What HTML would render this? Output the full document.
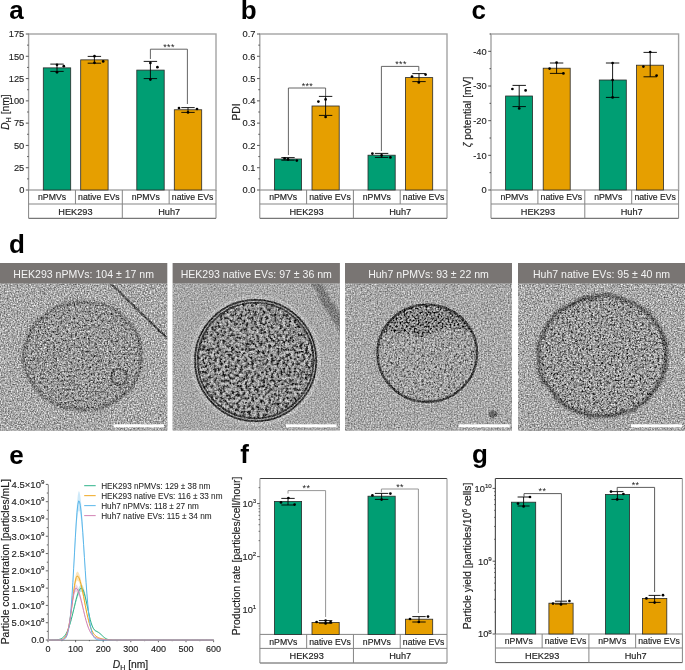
<!DOCTYPE html>
<html><head><meta charset="utf-8"><style>
html,body{margin:0;padding:0;background:#fff;}
svg{display:block;will-change:transform;}
text{font-family:"Liberation Sans", sans-serif;}
</style></head><body>
<svg width="685" height="670" viewBox="0 0 685 670">
<defs>
<filter id="bl" x="-20%" y="-20%" width="140%" height="140%"><feGaussianBlur stdDeviation="0.7"/></filter>
<filter id="bl2" x="-20%" y="-20%" width="140%" height="140%"><feGaussianBlur stdDeviation="1.0"/></filter>
<filter id="texA0" x="-5%" y="-5%" width="110%" height="110%" color-interpolation-filters="sRGB">
<feTurbulence type="fractalNoise" baseFrequency="0.45" numOctaves="2" seed="11" result="t"/>
<feColorMatrix in="t" type="matrix" values="2.5 0 0 0 -0.73  2.5 0 0 0 -0.73  2.5 0 0 0 -0.73  0 0 0 0 1" result="g"/>
<feComponentTransfer in="g" result="h"><feFuncR type="table" tableValues="0.34 0.50 0.595 0.64 0.68"/><feFuncG type="table" tableValues="0.34 0.50 0.595 0.64 0.68"/><feFuncB type="table" tableValues="0.34 0.50 0.595 0.64 0.68"/></feComponentTransfer>
<feComposite in="h" in2="SourceGraphic" operator="in"/>
</filter>
<filter id="texB1" x="-5%" y="-5%" width="110%" height="110%" color-interpolation-filters="sRGB">
<feTurbulence type="fractalNoise" baseFrequency="0.35" numOctaves="2" seed="12" result="t"/>
<feColorMatrix in="t" type="matrix" values="2.5 0 0 0 -0.73  2.5 0 0 0 -0.73  2.5 0 0 0 -0.73  0 0 0 0 1" result="g"/>
<feComponentTransfer in="g" result="h"><feFuncR type="table" tableValues="0.14 0.33 0.53 0.65 0.73"/><feFuncG type="table" tableValues="0.14 0.33 0.53 0.65 0.73"/><feFuncB type="table" tableValues="0.14 0.33 0.53 0.65 0.73"/></feComponentTransfer>
<feComposite in="h" in2="SourceGraphic" operator="in"/>
</filter>
<filter id="texA2" x="-5%" y="-5%" width="110%" height="110%" color-interpolation-filters="sRGB">
<feTurbulence type="fractalNoise" baseFrequency="0.45" numOctaves="2" seed="13" result="t"/>
<feColorMatrix in="t" type="matrix" values="2.5 0 0 0 -0.73  2.5 0 0 0 -0.73  2.5 0 0 0 -0.73  0 0 0 0 1" result="g"/>
<feComponentTransfer in="g" result="h"><feFuncR type="table" tableValues="0.36 0.54 0.63 0.67 0.71"/><feFuncG type="table" tableValues="0.36 0.54 0.63 0.67 0.71"/><feFuncB type="table" tableValues="0.36 0.54 0.63 0.67 0.71"/></feComponentTransfer>
<feComposite in="h" in2="SourceGraphic" operator="in"/>
</filter>
<filter id="texA3" x="-5%" y="-5%" width="110%" height="110%" color-interpolation-filters="sRGB">
<feTurbulence type="fractalNoise" baseFrequency="0.45" numOctaves="2" seed="14" result="t"/>
<feColorMatrix in="t" type="matrix" values="2.5 0 0 0 -0.73  2.5 0 0 0 -0.73  2.5 0 0 0 -0.73  0 0 0 0 1" result="g"/>
<feComponentTransfer in="g" result="h"><feFuncR type="table" tableValues="0.26 0.48 0.60 0.66 0.70"/><feFuncG type="table" tableValues="0.26 0.48 0.60 0.66 0.70"/><feFuncB type="table" tableValues="0.26 0.48 0.60 0.66 0.70"/></feComponentTransfer>
<feComposite in="h" in2="SourceGraphic" operator="in"/>
</filter>
<filter id="texD" x="-5%" y="-5%" width="110%" height="110%" color-interpolation-filters="sRGB">
<feTurbulence type="fractalNoise" baseFrequency="0.5" numOctaves="2" seed="21" result="t"/>
<feColorMatrix in="t" type="matrix" values="2.5 0 0 0 -0.73  2.5 0 0 0 -0.73  2.5 0 0 0 -0.73  0 0 0 0 1" result="g"/>
<feComponentTransfer in="g" result="h"><feFuncR type="table" tableValues="0.08 0.22 0.5 0.64 0.70"/><feFuncG type="table" tableValues="0.08 0.22 0.5 0.64 0.70"/><feFuncB type="table" tableValues="0.08 0.22 0.5 0.64 0.70"/></feComponentTransfer>
<feComposite in="h" in2="SourceGraphic" operator="in"/>
</filter>
<filter id="wob" x="-10%" y="-10%" width="120%" height="120%">
<feTurbulence type="fractalNoise" baseFrequency="0.06" numOctaves="1" seed="5" result="w"/>
<feDisplacementMap in="SourceGraphic" in2="w" scale="5" xChannelSelector="R" yChannelSelector="G" result="d"/>
<feGaussianBlur in="d" stdDeviation="0.9"/>
</filter>
<clipPath id="clip0"><rect x="0" y="283.4" width="167.3" height="147"/></clipPath>
<filter id="noise0" x="0" y="283.4" width="167.3" height="147" filterUnits="userSpaceOnUse" color-interpolation-filters="sRGB">
<feTurbulence type="fractalNoise" baseFrequency="0.7" numOctaves="2" seed="3" result="t"/>
<feColorMatrix in="t" type="matrix" values="1 0 0 0 0  1 0 0 0 0  1 0 0 0 0  0 0 0 0 1" result="g0"/>
<feGaussianBlur in="g0" stdDeviation="0.65" result="g"/>
<feComposite in="SourceGraphic" in2="g" operator="arithmetic" k1="0" k2="1" k3="0.95" k4="-0.465"/>
</filter>
<clipPath id="clip1"><rect x="172.6" y="283.4" width="167.3" height="147"/></clipPath>
<filter id="noise1" x="172.6" y="283.4" width="167.3" height="147" filterUnits="userSpaceOnUse" color-interpolation-filters="sRGB">
<feTurbulence type="fractalNoise" baseFrequency="0.7" numOctaves="2" seed="10" result="t"/>
<feColorMatrix in="t" type="matrix" values="1 0 0 0 0  1 0 0 0 0  1 0 0 0 0  0 0 0 0 1" result="g0"/>
<feGaussianBlur in="g0" stdDeviation="0.65" result="g"/>
<feComposite in="SourceGraphic" in2="g" operator="arithmetic" k1="0" k2="1" k3="0.62" k4="-0.304"/>
</filter>
<clipPath id="clip2"><rect x="345" y="283.4" width="167" height="147"/></clipPath>
<filter id="noise2" x="345" y="283.4" width="167" height="147" filterUnits="userSpaceOnUse" color-interpolation-filters="sRGB">
<feTurbulence type="fractalNoise" baseFrequency="0.7" numOctaves="2" seed="17" result="t"/>
<feColorMatrix in="t" type="matrix" values="1 0 0 0 0  1 0 0 0 0  1 0 0 0 0  0 0 0 0 1" result="g0"/>
<feGaussianBlur in="g0" stdDeviation="0.65" result="g"/>
<feComposite in="SourceGraphic" in2="g" operator="arithmetic" k1="0" k2="1" k3="0.78" k4="-0.382"/>
</filter>
<clipPath id="clip3"><rect x="518" y="283.4" width="167" height="147"/></clipPath>
<filter id="noise3" x="518" y="283.4" width="167" height="147" filterUnits="userSpaceOnUse" color-interpolation-filters="sRGB">
<feTurbulence type="fractalNoise" baseFrequency="0.7" numOctaves="2" seed="24" result="t"/>
<feColorMatrix in="t" type="matrix" values="1 0 0 0 0  1 0 0 0 0  1 0 0 0 0  0 0 0 0 1" result="g0"/>
<feGaussianBlur in="g0" stdDeviation="0.65" result="g"/>
<feComposite in="SourceGraphic" in2="g" operator="arithmetic" k1="0" k2="1" k3="0.95" k4="-0.465"/>
</filter>
</defs>
<rect width="685" height="670" fill="#fff"/>
<text x="9.3" y="19.2" font-size="26" font-weight="bold" fill="#000">a</text>
<rect x="28.6" y="34" width="187.4" height="156" fill="none" stroke="#a3a3a3" stroke-width="1.4" />
<line x1="25.8" y1="190" x2="28.6" y2="190" stroke="#444" stroke-width="0.9" />
<text x="24.3" y="193.3" font-size="9.3" text-anchor="end" fill="#1e1e1e" stroke="#1e1e1e" stroke-width="0.14" >0</text>
<line x1="25.8" y1="167.71" x2="28.6" y2="167.71" stroke="#444" stroke-width="0.9" />
<text x="24.3" y="171.01" font-size="9.3" text-anchor="end" fill="#1e1e1e" stroke="#1e1e1e" stroke-width="0.14" >25</text>
<line x1="25.8" y1="145.43" x2="28.6" y2="145.43" stroke="#444" stroke-width="0.9" />
<text x="24.3" y="148.73" font-size="9.3" text-anchor="end" fill="#1e1e1e" stroke="#1e1e1e" stroke-width="0.14" >50</text>
<line x1="25.8" y1="123.14" x2="28.6" y2="123.14" stroke="#444" stroke-width="0.9" />
<text x="24.3" y="126.44" font-size="9.3" text-anchor="end" fill="#1e1e1e" stroke="#1e1e1e" stroke-width="0.14" >75</text>
<line x1="25.8" y1="100.86" x2="28.6" y2="100.86" stroke="#444" stroke-width="0.9" />
<text x="24.3" y="104.16" font-size="9.3" text-anchor="end" fill="#1e1e1e" stroke="#1e1e1e" stroke-width="0.14" >100</text>
<line x1="25.8" y1="78.57" x2="28.6" y2="78.57" stroke="#444" stroke-width="0.9" />
<text x="24.3" y="81.87" font-size="9.3" text-anchor="end" fill="#1e1e1e" stroke="#1e1e1e" stroke-width="0.14" >125</text>
<line x1="25.8" y1="56.29" x2="28.6" y2="56.29" stroke="#444" stroke-width="0.9" />
<text x="24.3" y="59.59" font-size="9.3" text-anchor="end" fill="#1e1e1e" stroke="#1e1e1e" stroke-width="0.14" >150</text>
<line x1="25.8" y1="34" x2="28.6" y2="34" stroke="#444" stroke-width="0.9" />
<text x="24.3" y="37.3" font-size="9.3" text-anchor="end" fill="#1e1e1e" stroke="#1e1e1e" stroke-width="0.14" >175</text>
<line x1="27.1" y1="178.86" x2="28.6" y2="178.86" stroke="#444" stroke-width="0.9" />
<line x1="27.1" y1="156.57" x2="28.6" y2="156.57" stroke="#444" stroke-width="0.9" />
<line x1="27.1" y1="134.29" x2="28.6" y2="134.29" stroke="#444" stroke-width="0.9" />
<line x1="27.1" y1="112" x2="28.6" y2="112" stroke="#444" stroke-width="0.9" />
<line x1="27.1" y1="89.71" x2="28.6" y2="89.71" stroke="#444" stroke-width="0.9" />
<line x1="27.1" y1="67.43" x2="28.6" y2="67.43" stroke="#444" stroke-width="0.9" />
<line x1="27.1" y1="45.14" x2="28.6" y2="45.14" stroke="#444" stroke-width="0.9" />
<rect x="43.3" y="67.87" width="27.4" height="122.13" fill="#009E73" stroke="#2a2a2a" stroke-width="0.8" />
<rect x="80.7" y="59.85" width="27.4" height="130.15" fill="#E69F00" stroke="#2a2a2a" stroke-width="0.8" />
<rect x="136.8" y="70.1" width="27.4" height="119.9" fill="#009E73" stroke="#2a2a2a" stroke-width="0.8" />
<rect x="174.3" y="109.77" width="27.4" height="80.23" fill="#E69F00" stroke="#2a2a2a" stroke-width="0.8" />
<line x1="57" y1="64.1" x2="57" y2="71.4" stroke="#000" stroke-width="0.9" />
<line x1="50.3" y1="64.1" x2="63.7" y2="64.1" stroke="#000" stroke-width="0.9" />
<line x1="50.3" y1="71.4" x2="63.7" y2="71.4" stroke="#000" stroke-width="0.9" />
<circle cx="57" cy="64.8" r="1.35" fill="#000"/>
<circle cx="57" cy="72.3" r="1.35" fill="#000"/>
<circle cx="63.8" cy="66.2" r="1.35" fill="#000"/>
<line x1="94.4" y1="56.4" x2="94.4" y2="63.2" stroke="#000" stroke-width="0.9" />
<line x1="87.7" y1="56.4" x2="101.1" y2="56.4" stroke="#000" stroke-width="0.9" />
<line x1="87.7" y1="63.2" x2="101.1" y2="63.2" stroke="#000" stroke-width="0.9" />
<circle cx="94.5" cy="56.2" r="1.35" fill="#000"/>
<circle cx="94.5" cy="62.8" r="1.35" fill="#000"/>
<circle cx="103.2" cy="61.4" r="1.35" fill="#000"/>
<line x1="150.4" y1="61.4" x2="150.4" y2="78.6" stroke="#000" stroke-width="0.9" />
<line x1="143.7" y1="61.4" x2="157.1" y2="61.4" stroke="#000" stroke-width="0.9" />
<line x1="143.7" y1="78.6" x2="157.1" y2="78.6" stroke="#000" stroke-width="0.9" />
<circle cx="150.4" cy="63" r="1.35" fill="#000"/>
<circle cx="150.4" cy="79.6" r="1.35" fill="#000"/>
<circle cx="157.4" cy="67.2" r="1.35" fill="#000"/>
<line x1="188" y1="107.6" x2="188" y2="112.4" stroke="#000" stroke-width="0.9" />
<line x1="181.3" y1="107.6" x2="194.7" y2="107.6" stroke="#000" stroke-width="0.9" />
<line x1="181.3" y1="112.4" x2="194.7" y2="112.4" stroke="#000" stroke-width="0.9" />
<circle cx="179" cy="108" r="1.35" fill="#000"/>
<circle cx="188" cy="112.4" r="1.35" fill="#000"/>
<circle cx="197" cy="109" r="1.35" fill="#000"/>
<polyline points="150.4,59 150.4,49.2 187.4,49.2 187.4,104" fill="none" stroke="#555" stroke-width="0.9"/>
<text x="169" y="49.8" font-size="9.0" text-anchor="middle" fill="#222" stroke="#222" stroke-width="0" letter-spacing="0.3">***</text>
<line x1="28.6" y1="204" x2="216" y2="204" stroke="#858585" stroke-width="1" />
<line x1="28.6" y1="218.3" x2="216" y2="218.3" stroke="#555" stroke-width="1" />
<line x1="28.6" y1="190" x2="28.6" y2="218.3" stroke="#858585" stroke-width="1" />
<line x1="216" y1="190" x2="216" y2="218.3" stroke="#858585" stroke-width="1" />
<line x1="122.3" y1="190" x2="122.3" y2="218.3" stroke="#858585" stroke-width="1" />
<line x1="75.45" y1="190" x2="75.45" y2="204" stroke="#858585" stroke-width="1" />
<line x1="169.15" y1="190" x2="169.15" y2="204" stroke="#858585" stroke-width="1" />
<text x="52.03" y="200.1" font-size="8.7" text-anchor="middle" fill="#1e1e1e" stroke="#1e1e1e" stroke-width="0.17" >nPMVs</text>
<text x="98.88" y="200.1" font-size="8.7" text-anchor="middle" fill="#1e1e1e" stroke="#1e1e1e" stroke-width="0.17" >native EVs</text>
<text x="145.73" y="200.1" font-size="8.7" text-anchor="middle" fill="#1e1e1e" stroke="#1e1e1e" stroke-width="0.17" >nPMVs</text>
<text x="192.58" y="200.1" font-size="8.7" text-anchor="middle" fill="#1e1e1e" stroke="#1e1e1e" stroke-width="0.17" >native EVs</text>
<text x="75.45" y="214.6" font-size="9.2" text-anchor="middle" fill="#1e1e1e" stroke="#1e1e1e" stroke-width="0.17" >HEK293</text>
<text x="169.15" y="214.6" font-size="9.2" text-anchor="middle" fill="#1e1e1e" stroke="#1e1e1e" stroke-width="0.17" >Huh7</text>
<text transform="translate(8.7,112) rotate(-90)" font-size="10.3" text-anchor="middle" fill="#1e1e1e" stroke="#1e1e1e" stroke-width="0.17"><tspan font-style="italic">D</tspan><tspan font-size="7" dy="2.2">H</tspan><tspan dy="-2.2"> [nm]</tspan></text>
<text x="240.8" y="19.4" font-size="26" font-weight="bold" fill="#000">b</text>
<rect x="259.8" y="34" width="187.2" height="156" fill="none" stroke="#a3a3a3" stroke-width="1.4" />
<line x1="257" y1="190" x2="259.8" y2="190" stroke="#444" stroke-width="0.9" />
<text x="255.5" y="193.3" font-size="9.3" text-anchor="end" fill="#1e1e1e" stroke="#1e1e1e" stroke-width="0.14" >0.0</text>
<line x1="258.3" y1="178.86" x2="259.8" y2="178.86" stroke="#444" stroke-width="0.9" />
<line x1="257" y1="167.71" x2="259.8" y2="167.71" stroke="#444" stroke-width="0.9" />
<text x="255.5" y="171.01" font-size="9.3" text-anchor="end" fill="#1e1e1e" stroke="#1e1e1e" stroke-width="0.14" >0.1</text>
<line x1="258.3" y1="156.57" x2="259.8" y2="156.57" stroke="#444" stroke-width="0.9" />
<line x1="257" y1="145.43" x2="259.8" y2="145.43" stroke="#444" stroke-width="0.9" />
<text x="255.5" y="148.73" font-size="9.3" text-anchor="end" fill="#1e1e1e" stroke="#1e1e1e" stroke-width="0.14" >0.2</text>
<line x1="258.3" y1="134.29" x2="259.8" y2="134.29" stroke="#444" stroke-width="0.9" />
<line x1="257" y1="123.14" x2="259.8" y2="123.14" stroke="#444" stroke-width="0.9" />
<text x="255.5" y="126.44" font-size="9.3" text-anchor="end" fill="#1e1e1e" stroke="#1e1e1e" stroke-width="0.14" >0.3</text>
<line x1="258.3" y1="112" x2="259.8" y2="112" stroke="#444" stroke-width="0.9" />
<line x1="257" y1="100.86" x2="259.8" y2="100.86" stroke="#444" stroke-width="0.9" />
<text x="255.5" y="104.16" font-size="9.3" text-anchor="end" fill="#1e1e1e" stroke="#1e1e1e" stroke-width="0.14" >0.4</text>
<line x1="258.3" y1="89.71" x2="259.8" y2="89.71" stroke="#444" stroke-width="0.9" />
<line x1="257" y1="78.57" x2="259.8" y2="78.57" stroke="#444" stroke-width="0.9" />
<text x="255.5" y="81.87" font-size="9.3" text-anchor="end" fill="#1e1e1e" stroke="#1e1e1e" stroke-width="0.14" >0.5</text>
<line x1="258.3" y1="67.43" x2="259.8" y2="67.43" stroke="#444" stroke-width="0.9" />
<line x1="257" y1="56.29" x2="259.8" y2="56.29" stroke="#444" stroke-width="0.9" />
<text x="255.5" y="59.59" font-size="9.3" text-anchor="end" fill="#1e1e1e" stroke="#1e1e1e" stroke-width="0.14" >0.6</text>
<line x1="258.3" y1="45.14" x2="259.8" y2="45.14" stroke="#444" stroke-width="0.9" />
<line x1="257" y1="34" x2="259.8" y2="34" stroke="#444" stroke-width="0.9" />
<text x="255.5" y="37.3" font-size="9.3" text-anchor="end" fill="#1e1e1e" stroke="#1e1e1e" stroke-width="0.14" >0.7</text>
<rect x="274.4" y="159" width="27.2" height="31" fill="#009E73" stroke="#2a2a2a" stroke-width="0.8" />
<rect x="312" y="106" width="27.2" height="84" fill="#E69F00" stroke="#2a2a2a" stroke-width="0.8" />
<rect x="368" y="155.2" width="27.2" height="34.8" fill="#009E73" stroke="#2a2a2a" stroke-width="0.8" />
<rect x="405.5" y="77.6" width="27.2" height="112.4" fill="#E69F00" stroke="#2a2a2a" stroke-width="0.8" />
<line x1="288" y1="157.6" x2="288" y2="160.2" stroke="#000" stroke-width="0.9" />
<line x1="281.3" y1="157.6" x2="294.7" y2="157.6" stroke="#000" stroke-width="0.9" />
<line x1="281.3" y1="160.2" x2="294.7" y2="160.2" stroke="#000" stroke-width="0.9" />
<circle cx="284.6" cy="158.4" r="1.35" fill="#000"/>
<circle cx="288" cy="159.4" r="1.35" fill="#000"/>
<circle cx="296.8" cy="160.6" r="1.35" fill="#000"/>
<line x1="325.6" y1="96.4" x2="325.6" y2="115.4" stroke="#000" stroke-width="0.9" />
<line x1="318.9" y1="96.4" x2="332.3" y2="96.4" stroke="#000" stroke-width="0.9" />
<line x1="318.9" y1="115.4" x2="332.3" y2="115.4" stroke="#000" stroke-width="0.9" />
<circle cx="318.4" cy="101.6" r="1.35" fill="#000"/>
<circle cx="325.6" cy="99.4" r="1.35" fill="#000"/>
<circle cx="325.6" cy="117" r="1.35" fill="#000"/>
<line x1="381.6" y1="153.4" x2="381.6" y2="157.4" stroke="#000" stroke-width="0.9" />
<line x1="374.9" y1="153.4" x2="388.3" y2="153.4" stroke="#000" stroke-width="0.9" />
<line x1="374.9" y1="157.4" x2="388.3" y2="157.4" stroke="#000" stroke-width="0.9" />
<circle cx="372.4" cy="153.6" r="1.35" fill="#000"/>
<circle cx="381.6" cy="155.4" r="1.35" fill="#000"/>
<circle cx="390.4" cy="157.4" r="1.35" fill="#000"/>
<line x1="419" y1="73.6" x2="419" y2="81.6" stroke="#000" stroke-width="0.9" />
<line x1="412.3" y1="73.6" x2="425.7" y2="73.6" stroke="#000" stroke-width="0.9" />
<line x1="412.3" y1="81.6" x2="425.7" y2="81.6" stroke="#000" stroke-width="0.9" />
<circle cx="412" cy="76.6" r="1.35" fill="#000"/>
<circle cx="425.6" cy="74.6" r="1.35" fill="#000"/>
<circle cx="418.8" cy="82.4" r="1.35" fill="#000"/>
<polyline points="288.4,155 288.4,88 325.6,88 325.6,96" fill="none" stroke="#555" stroke-width="0.9"/>
<text x="307.4" y="88.6" font-size="9.0" text-anchor="middle" fill="#222" stroke="#222" stroke-width="0" letter-spacing="0.3">***</text>
<polyline points="381.4,151 381.4,66.4 418.8,66.4 418.8,71" fill="none" stroke="#555" stroke-width="0.9"/>
<text x="401" y="67" font-size="9.0" text-anchor="middle" fill="#222" stroke="#222" stroke-width="0" letter-spacing="0.3">***</text>
<line x1="259.8" y1="204" x2="447" y2="204" stroke="#858585" stroke-width="1" />
<line x1="259.8" y1="218.3" x2="447" y2="218.3" stroke="#555" stroke-width="1" />
<line x1="259.8" y1="190" x2="259.8" y2="218.3" stroke="#858585" stroke-width="1" />
<line x1="447" y1="190" x2="447" y2="218.3" stroke="#858585" stroke-width="1" />
<line x1="353.4" y1="190" x2="353.4" y2="218.3" stroke="#858585" stroke-width="1" />
<line x1="306.6" y1="190" x2="306.6" y2="204" stroke="#858585" stroke-width="1" />
<line x1="400.2" y1="190" x2="400.2" y2="204" stroke="#858585" stroke-width="1" />
<text x="283.2" y="200.1" font-size="8.7" text-anchor="middle" fill="#1e1e1e" stroke="#1e1e1e" stroke-width="0.17" >nPMVs</text>
<text x="330" y="200.1" font-size="8.7" text-anchor="middle" fill="#1e1e1e" stroke="#1e1e1e" stroke-width="0.17" >native EVs</text>
<text x="376.8" y="200.1" font-size="8.7" text-anchor="middle" fill="#1e1e1e" stroke="#1e1e1e" stroke-width="0.17" >nPMVs</text>
<text x="423.6" y="200.1" font-size="8.7" text-anchor="middle" fill="#1e1e1e" stroke="#1e1e1e" stroke-width="0.17" >native EVs</text>
<text x="306.6" y="214.6" font-size="9.2" text-anchor="middle" fill="#1e1e1e" stroke="#1e1e1e" stroke-width="0.17" >HEK293</text>
<text x="400.2" y="214.6" font-size="9.2" text-anchor="middle" fill="#1e1e1e" stroke="#1e1e1e" stroke-width="0.17" >Huh7</text>
<text x="0" y="0" font-size="10.3" text-anchor="middle" fill="#1e1e1e" stroke="#1e1e1e" stroke-width="0.17" transform="translate(239.6,112) rotate(-90)">PDI</text>
<text x="471.5" y="19.2" font-size="26" font-weight="bold" fill="#000">c</text>
<rect x="491" y="34" width="187.6" height="156" fill="none" stroke="#a3a3a3" stroke-width="1.4" />
<line x1="488.2" y1="190" x2="491" y2="190" stroke="#444" stroke-width="0.9" />
<text x="486.7" y="193.3" font-size="9.3" text-anchor="end" fill="#1e1e1e" stroke="#1e1e1e" stroke-width="0.14" >0</text>
<line x1="488.2" y1="155.33" x2="491" y2="155.33" stroke="#444" stroke-width="0.9" />
<text x="486.7" y="158.63" font-size="9.3" text-anchor="end" fill="#1e1e1e" stroke="#1e1e1e" stroke-width="0.14" >-10</text>
<line x1="488.2" y1="120.67" x2="491" y2="120.67" stroke="#444" stroke-width="0.9" />
<text x="486.7" y="123.97" font-size="9.3" text-anchor="end" fill="#1e1e1e" stroke="#1e1e1e" stroke-width="0.14" >-20</text>
<line x1="488.2" y1="86" x2="491" y2="86" stroke="#444" stroke-width="0.9" />
<text x="486.7" y="89.3" font-size="9.3" text-anchor="end" fill="#1e1e1e" stroke="#1e1e1e" stroke-width="0.14" >-30</text>
<line x1="488.2" y1="51.33" x2="491" y2="51.33" stroke="#444" stroke-width="0.9" />
<text x="486.7" y="54.63" font-size="9.3" text-anchor="end" fill="#1e1e1e" stroke="#1e1e1e" stroke-width="0.14" >-40</text>
<line x1="489.5" y1="172.67" x2="491" y2="172.67" stroke="#444" stroke-width="0.9" />
<line x1="489.5" y1="138" x2="491" y2="138" stroke="#444" stroke-width="0.9" />
<line x1="489.5" y1="103.33" x2="491" y2="103.33" stroke="#444" stroke-width="0.9" />
<line x1="489.5" y1="68.67" x2="491" y2="68.67" stroke="#444" stroke-width="0.9" />
<line x1="489.5" y1="34" x2="491" y2="34" stroke="#444" stroke-width="0.9" />
<rect x="505.6" y="96" width="27" height="94" fill="#009E73" stroke="#2a2a2a" stroke-width="0.8" />
<rect x="543.2" y="68.2" width="27" height="121.8" fill="#E69F00" stroke="#2a2a2a" stroke-width="0.8" />
<rect x="599.3" y="80" width="27" height="110" fill="#009E73" stroke="#2a2a2a" stroke-width="0.8" />
<rect x="636.6" y="65.2" width="27" height="124.8" fill="#E69F00" stroke="#2a2a2a" stroke-width="0.8" />
<line x1="519.2" y1="85.4" x2="519.2" y2="106.6" stroke="#000" stroke-width="0.9" />
<line x1="512.5" y1="85.4" x2="525.9" y2="85.4" stroke="#000" stroke-width="0.9" />
<line x1="512.5" y1="106.6" x2="525.9" y2="106.6" stroke="#000" stroke-width="0.9" />
<circle cx="512.4" cy="89" r="1.35" fill="#000"/>
<circle cx="525.6" cy="90.4" r="1.35" fill="#000"/>
<circle cx="519.2" cy="108.4" r="1.35" fill="#000"/>
<line x1="556.6" y1="63" x2="556.6" y2="73.4" stroke="#000" stroke-width="0.9" />
<line x1="549.9" y1="63" x2="563.3" y2="63" stroke="#000" stroke-width="0.9" />
<line x1="549.9" y1="73.4" x2="563.3" y2="73.4" stroke="#000" stroke-width="0.9" />
<circle cx="549.6" cy="68.6" r="1.35" fill="#000"/>
<circle cx="556.6" cy="62.6" r="1.35" fill="#000"/>
<circle cx="563.4" cy="73.4" r="1.35" fill="#000"/>
<line x1="612.6" y1="63" x2="612.6" y2="97.4" stroke="#000" stroke-width="0.9" />
<line x1="605.9" y1="63" x2="619.3" y2="63" stroke="#000" stroke-width="0.9" />
<line x1="605.9" y1="97.4" x2="619.3" y2="97.4" stroke="#000" stroke-width="0.9" />
<circle cx="612.6" cy="63" r="1.35" fill="#000"/>
<circle cx="612.6" cy="80" r="1.35" fill="#000"/>
<circle cx="612.6" cy="97.4" r="1.35" fill="#000"/>
<line x1="650.2" y1="52.4" x2="650.2" y2="76.8" stroke="#000" stroke-width="0.9" />
<line x1="643.5" y1="52.4" x2="656.9" y2="52.4" stroke="#000" stroke-width="0.9" />
<line x1="643.5" y1="76.8" x2="656.9" y2="76.8" stroke="#000" stroke-width="0.9" />
<circle cx="650.2" cy="52" r="1.35" fill="#000"/>
<circle cx="643.4" cy="66.6" r="1.35" fill="#000"/>
<circle cx="656.6" cy="75.6" r="1.35" fill="#000"/>
<line x1="491" y1="204" x2="678.6" y2="204" stroke="#858585" stroke-width="1" />
<line x1="491" y1="218.3" x2="678.6" y2="218.3" stroke="#555" stroke-width="1" />
<line x1="491" y1="190" x2="491" y2="218.3" stroke="#858585" stroke-width="1" />
<line x1="678.6" y1="190" x2="678.6" y2="218.3" stroke="#858585" stroke-width="1" />
<line x1="584.8" y1="190" x2="584.8" y2="218.3" stroke="#858585" stroke-width="1" />
<line x1="537.9" y1="190" x2="537.9" y2="204" stroke="#858585" stroke-width="1" />
<line x1="631.7" y1="190" x2="631.7" y2="204" stroke="#858585" stroke-width="1" />
<text x="514.45" y="200.1" font-size="8.7" text-anchor="middle" fill="#1e1e1e" stroke="#1e1e1e" stroke-width="0.17" >nPMVs</text>
<text x="561.35" y="200.1" font-size="8.7" text-anchor="middle" fill="#1e1e1e" stroke="#1e1e1e" stroke-width="0.17" >native EVs</text>
<text x="608.25" y="200.1" font-size="8.7" text-anchor="middle" fill="#1e1e1e" stroke="#1e1e1e" stroke-width="0.17" >nPMVs</text>
<text x="655.15" y="200.1" font-size="8.7" text-anchor="middle" fill="#1e1e1e" stroke="#1e1e1e" stroke-width="0.17" >native EVs</text>
<text x="537.9" y="214.6" font-size="9.2" text-anchor="middle" fill="#1e1e1e" stroke="#1e1e1e" stroke-width="0.17" >HEK293</text>
<text x="631.7" y="214.6" font-size="9.2" text-anchor="middle" fill="#1e1e1e" stroke="#1e1e1e" stroke-width="0.17" >Huh7</text>
<text transform="translate(470.6,112) rotate(-90)" font-size="10.3" text-anchor="middle" fill="#1e1e1e" stroke="#1e1e1e" stroke-width="0.17"><tspan font-style="italic">ζ</tspan> potential [mV]</text>
<text x="8.9" y="252.5" font-size="26" font-weight="bold" fill="#000">d</text>
<g clip-path="url(#clip0)"><g filter="url(#noise0)">
<rect x="0" y="283.4" width="167.3" height="147" fill="#a5a5a5" stroke="none" stroke-width="0" />

<ellipse cx="83" cy="356" rx="60" ry="55" fill="#fff" filter="url(#texA0)"/>
<ellipse cx="83" cy="356" rx="59" ry="54" fill="none" stroke="#4a4a4a" stroke-width="3.2" stroke-opacity="0.5" filter="url(#wob)"/>
<circle cx="119" cy="377" r="8" fill="none" stroke="#444" stroke-width="2.2" stroke-opacity="0.7" filter="url(#bl)"/>
<line x1="108" y1="281" x2="168" y2="339" stroke="#2a2a2a" stroke-width="2.2" stroke-opacity="0.7" filter="url(#bl)"/>

</g></g>
<rect x="0" y="263" width="167.3" height="20.4" fill="#797573" stroke="none" stroke-width="0" />
<text x="83.65" y="277.5" font-size="10.55" text-anchor="middle" fill="#f4f4f4" stroke="#f4f4f4" stroke-width="0" >HEK293 nPMVs: 104 ± 17 nm</text>
<g clip-path="url(#clip1)"><g filter="url(#noise1)">
<rect x="172.6" y="283.4" width="167.3" height="147" fill="#a5a5a5" stroke="none" stroke-width="0" />

<circle cx="255.6" cy="360.5" r="63.5" fill="none" stroke="#d8d8d8" stroke-width="3.5" stroke-opacity="0.35" filter="url(#bl)"/>
<circle cx="255.6" cy="360.5" r="59" fill="#fff" filter="url(#texB1)"/>
<circle cx="255.6" cy="360.5" r="60.6" fill="none" stroke="#262626" stroke-width="1.7" stroke-opacity="0.9" filter="url(#bl)"/>
<circle cx="255.6" cy="360.5" r="57.8" fill="none" stroke="#262626" stroke-width="1.6" stroke-opacity="0.8" filter="url(#bl)"/>
<path d="M314,281 Q328,305 344,330" fill="none" stroke="#2a2a2a" stroke-width="9" stroke-opacity="0.35" filter="url(#wob)"/>

</g></g>
<rect x="172.6" y="263" width="167.3" height="20.4" fill="#797573" stroke="none" stroke-width="0" />
<text x="256.25" y="277.5" font-size="10.55" text-anchor="middle" fill="#f4f4f4" stroke="#f4f4f4" stroke-width="0" >HEK293 native EVs: 97 ± 36 nm</text>
<g clip-path="url(#clip2)"><g filter="url(#noise2)">
<rect x="345" y="283.4" width="167" height="147" fill="#a5a5a5" stroke="none" stroke-width="0" />

<ellipse cx="427" cy="353" rx="49.5" ry="49" fill="#fff" filter="url(#texA2)"/>
<path d="M381,334 Q392,306 427,305 Q462,306 472,332 Q445,322 425,338 Q400,330 381,334 Z" fill="#fff" filter="url(#texD)"/>
<ellipse cx="427.2" cy="353.2" rx="49.7" ry="48.6" fill="none" stroke="#262626" stroke-width="2.4" stroke-opacity="0.8" filter="url(#bl)"/>
<circle cx="493" cy="414" r="4" fill="#333" fill-opacity="0.6" filter="url(#bl)"/>

</g></g>
<rect x="345" y="263" width="167" height="20.4" fill="#797573" stroke="none" stroke-width="0" />
<text x="428.5" y="277.5" font-size="10.55" text-anchor="middle" fill="#f4f4f4" stroke="#f4f4f4" stroke-width="0" >Huh7 nPMVs: 93 ± 22 nm</text>
<g clip-path="url(#clip3)"><g filter="url(#noise3)">
<rect x="518" y="283.4" width="167" height="147" fill="#a5a5a5" stroke="none" stroke-width="0" />

<ellipse cx="602.5" cy="356" rx="64" ry="60" fill="#fff" filter="url(#texA3)"/>
<ellipse cx="602.5" cy="356" rx="64" ry="60" fill="none" stroke="#222" stroke-width="3.4" stroke-opacity="0.62" filter="url(#wob)"/>

</g></g>
<rect x="518" y="263" width="167" height="20.4" fill="#797573" stroke="none" stroke-width="0" />
<text x="601.5" y="277.5" font-size="10.55" text-anchor="middle" fill="#f4f4f4" stroke="#f4f4f4" stroke-width="0" >Huh7 native EVs: 95 ± 40 nm</text>
<rect x="113.6" y="424.3" width="50.4" height="3" fill="#ffffff" stroke="none" stroke-width="0" />
<rect x="286" y="424.3" width="50.6" height="3" fill="#ffffff" stroke="none" stroke-width="0" />
<rect x="458.6" y="424.3" width="51.2" height="3" fill="#ffffff" stroke="none" stroke-width="0" />
<rect x="631" y="424.3" width="51" height="3" fill="#ffffff" stroke="none" stroke-width="0" />
<text x="9.2" y="463.5" font-size="26" font-weight="bold" fill="#000">e</text>
<line x1="48.3" y1="484.4" x2="48.3" y2="640" stroke="#808080" stroke-width="1" />
<line x1="48" y1="640.3" x2="213.6" y2="640.3" stroke="#808080" stroke-width="1" />
<line x1="45.8" y1="640" x2="48" y2="640" stroke="#555" stroke-width="0.9" />
<line x1="46.8" y1="631.36" x2="48" y2="631.36" stroke="#555" stroke-width="0.9" />
<text x="44.4" y="643.4" font-size="9.5" text-anchor="end" fill="#1e1e1e" stroke="#1e1e1e" stroke-width="0.14" >0.0</text>
<line x1="45.8" y1="622.71" x2="48" y2="622.71" stroke="#555" stroke-width="0.9" />
<line x1="46.8" y1="614.07" x2="48" y2="614.07" stroke="#555" stroke-width="0.9" />
<text x="44.4" y="626.11" font-size="9.5" text-anchor="end" fill="#1e1e1e" stroke="#1e1e1e" stroke-width="0.14">5.0×10<tspan font-size="6.2" dy="-3.8">8</tspan></text>
<line x1="45.8" y1="605.42" x2="48" y2="605.42" stroke="#555" stroke-width="0.9" />
<line x1="46.8" y1="596.78" x2="48" y2="596.78" stroke="#555" stroke-width="0.9" />
<text x="44.4" y="608.82" font-size="9.5" text-anchor="end" fill="#1e1e1e" stroke="#1e1e1e" stroke-width="0.14">1.0×10<tspan font-size="6.2" dy="-3.8">9</tspan></text>
<line x1="45.8" y1="588.13" x2="48" y2="588.13" stroke="#555" stroke-width="0.9" />
<line x1="46.8" y1="579.49" x2="48" y2="579.49" stroke="#555" stroke-width="0.9" />
<text x="44.4" y="591.53" font-size="9.5" text-anchor="end" fill="#1e1e1e" stroke="#1e1e1e" stroke-width="0.14">1.5×10<tspan font-size="6.2" dy="-3.8">9</tspan></text>
<line x1="45.8" y1="570.84" x2="48" y2="570.84" stroke="#555" stroke-width="0.9" />
<line x1="46.8" y1="562.2" x2="48" y2="562.2" stroke="#555" stroke-width="0.9" />
<text x="44.4" y="574.24" font-size="9.5" text-anchor="end" fill="#1e1e1e" stroke="#1e1e1e" stroke-width="0.14">2.0×10<tspan font-size="6.2" dy="-3.8">9</tspan></text>
<line x1="45.8" y1="553.56" x2="48" y2="553.56" stroke="#555" stroke-width="0.9" />
<line x1="46.8" y1="544.91" x2="48" y2="544.91" stroke="#555" stroke-width="0.9" />
<text x="44.4" y="556.96" font-size="9.5" text-anchor="end" fill="#1e1e1e" stroke="#1e1e1e" stroke-width="0.14">2.5×10<tspan font-size="6.2" dy="-3.8">9</tspan></text>
<line x1="45.8" y1="536.27" x2="48" y2="536.27" stroke="#555" stroke-width="0.9" />
<line x1="46.8" y1="527.62" x2="48" y2="527.62" stroke="#555" stroke-width="0.9" />
<text x="44.4" y="539.67" font-size="9.5" text-anchor="end" fill="#1e1e1e" stroke="#1e1e1e" stroke-width="0.14">3.0×10<tspan font-size="6.2" dy="-3.8">9</tspan></text>
<line x1="45.8" y1="518.98" x2="48" y2="518.98" stroke="#555" stroke-width="0.9" />
<line x1="46.8" y1="510.33" x2="48" y2="510.33" stroke="#555" stroke-width="0.9" />
<text x="44.4" y="522.38" font-size="9.5" text-anchor="end" fill="#1e1e1e" stroke="#1e1e1e" stroke-width="0.14">3.5×10<tspan font-size="6.2" dy="-3.8">9</tspan></text>
<line x1="45.8" y1="501.69" x2="48" y2="501.69" stroke="#555" stroke-width="0.9" />
<line x1="46.8" y1="493.04" x2="48" y2="493.04" stroke="#555" stroke-width="0.9" />
<text x="44.4" y="505.09" font-size="9.5" text-anchor="end" fill="#1e1e1e" stroke="#1e1e1e" stroke-width="0.14">4.0×10<tspan font-size="6.2" dy="-3.8">9</tspan></text>
<line x1="45.8" y1="484.4" x2="48" y2="484.4" stroke="#555" stroke-width="0.9" />
<text x="44.4" y="487.8" font-size="9.5" text-anchor="end" fill="#1e1e1e" stroke="#1e1e1e" stroke-width="0.14">4.5×10<tspan font-size="6.2" dy="-3.8">9</tspan></text>
<line x1="48" y1="640" x2="48" y2="642.2" stroke="#555" stroke-width="0.9" />
<text x="48" y="651.5" font-size="9.0" text-anchor="middle" fill="#1e1e1e" stroke="#1e1e1e" stroke-width="0.14" >0</text>
<line x1="61.8" y1="640" x2="61.8" y2="641.2" stroke="#555" stroke-width="0.9" />
<line x1="75.6" y1="640" x2="75.6" y2="642.2" stroke="#555" stroke-width="0.9" />
<text x="75.6" y="651.5" font-size="9.0" text-anchor="middle" fill="#1e1e1e" stroke="#1e1e1e" stroke-width="0.14" >100</text>
<line x1="89.4" y1="640" x2="89.4" y2="641.2" stroke="#555" stroke-width="0.9" />
<line x1="103.2" y1="640" x2="103.2" y2="642.2" stroke="#555" stroke-width="0.9" />
<text x="103.2" y="651.5" font-size="9.0" text-anchor="middle" fill="#1e1e1e" stroke="#1e1e1e" stroke-width="0.14" >200</text>
<line x1="117" y1="640" x2="117" y2="641.2" stroke="#555" stroke-width="0.9" />
<line x1="130.8" y1="640" x2="130.8" y2="642.2" stroke="#555" stroke-width="0.9" />
<text x="130.8" y="651.5" font-size="9.0" text-anchor="middle" fill="#1e1e1e" stroke="#1e1e1e" stroke-width="0.14" >300</text>
<line x1="144.6" y1="640" x2="144.6" y2="641.2" stroke="#555" stroke-width="0.9" />
<line x1="158.4" y1="640" x2="158.4" y2="642.2" stroke="#555" stroke-width="0.9" />
<text x="158.4" y="651.5" font-size="9.0" text-anchor="middle" fill="#1e1e1e" stroke="#1e1e1e" stroke-width="0.14" >400</text>
<line x1="172.2" y1="640" x2="172.2" y2="641.2" stroke="#555" stroke-width="0.9" />
<line x1="186" y1="640" x2="186" y2="642.2" stroke="#555" stroke-width="0.9" />
<text x="186" y="651.5" font-size="9.0" text-anchor="middle" fill="#1e1e1e" stroke="#1e1e1e" stroke-width="0.14" >500</text>
<line x1="199.8" y1="640" x2="199.8" y2="641.2" stroke="#555" stroke-width="0.9" />
<line x1="213.6" y1="640" x2="213.6" y2="642.2" stroke="#555" stroke-width="0.9" />
<text x="213.6" y="651.5" font-size="9.0" text-anchor="middle" fill="#1e1e1e" stroke="#1e1e1e" stroke-width="0.14" >600</text>
<text x="130.5" y="667.6" font-size="10.3" text-anchor="middle" fill="#1e1e1e" stroke="#1e1e1e" stroke-width="0.17"><tspan font-style="italic">D</tspan><tspan font-size="7" dy="2.2">H</tspan><tspan dy="-2.2"> [nm]</tspan></text>
<text transform="translate(9.1,561.7) rotate(-90)" font-size="10.45" text-anchor="middle" fill="#1e1e1e" stroke="#1e1e1e" stroke-width="0.17">Particle concentration [particles/mL]</text>
<polygon points="48,640 48.83,640 49.66,639.99 50.48,639.99 51.31,639.98 52.14,639.98 52.97,639.96 53.8,639.94 54.62,639.91 55.45,639.87 56.28,639.81 57.11,639.73 57.94,639.61 58.76,639.45 59.59,639.23 60.42,638.94 61.25,638.56 62.08,638.07 62.9,637.45 63.73,636.66 64.56,635.68 65.39,634.48 66.22,633.03 67.04,631.31 67.87,629.31 68.7,627 69.53,624.39 70.36,621.48 71.18,618.3 72.01,614.88 72.84,611.29 73.67,607.59 74.5,603.85 75.32,600.18 76.15,596.67 76.98,593.44 77.81,590.58 78.64,588.18 79.46,586.34 80.29,585.11 81.12,584.54 81.95,584.71 82.78,585.8 83.6,587.76 84.43,590.49 85.26,593.86 86.09,597.72 86.92,601.88 87.74,606.17 88.57,610.41 89.4,614.45 90.23,618.14 91.06,621.38 91.88,624.1 92.71,626.27 93.54,627.91 94.37,629.08 95.2,629.88 96.02,630.44 96.85,630.89 97.68,631.34 98.51,631.89 99.34,632.52 100.16,633.25 100.99,634.05 101.82,634.9 102.65,635.76 103.48,636.58 104.3,637.33 105.13,637.98 105.96,638.53 106.79,638.96 107.62,639.29 108.44,639.53 109.27,639.7 110.1,639.82 110.93,639.89 111.76,639.94 112.58,639.97 113.41,639.98 114.24,639.99 115.07,640 115.9,640 116.72,640 117.55,640 118.38,640 119.21,640 120.04,640 120.86,640 121.69,640 122.52,640 123.35,640 124.18,640 125,640 125.83,640 126.66,640 127.49,640 128.32,640 129.14,640 129.97,640 130.8,640 131.63,640 132.46,640 133.28,640 134.11,640 134.94,640 135.77,640 136.6,640 137.42,640 138.25,640 139.08,640 139.91,640 140.74,640 141.56,640 142.39,640 143.22,640 144.05,640 144.88,640 145.7,640 146.53,640 147.36,640 148.19,640 149.02,640 149.84,640 150.67,640 151.5,640 152.33,640 153.16,640 153.98,640 154.81,640 155.64,640 156.47,640 157.3,640 158.12,640 158.95,640 159.78,640 160.61,640 161.44,640 162.26,640 163.09,640 163.92,640 164.75,640 165.58,640 166.4,640 167.23,640 168.06,640 168.89,640 169.72,640 170.54,640 171.37,640 172.2,640 173.03,640 173.86,640 174.68,640 175.51,640 176.34,640 177.17,640 178,640 178.82,640 179.65,640 180.48,640 181.31,640 182.14,640 182.96,640 183.79,640 184.62,640 185.45,640 186.28,640 187.1,640 187.93,640 188.76,640 189.59,640 190.42,640 191.24,640 192.07,640 192.9,640 193.73,640 194.56,640 195.38,640 196.21,640 197.04,640 197.87,640 198.7,640 199.52,640 200.35,640 201.18,640 202.01,640 202.84,640 203.66,640 204.49,640 205.32,640 206.15,640 206.98,640 207.8,640 208.63,640 209.46,640 210.29,640 211.12,640 211.94,640 212.77,640 213.6,640 213.6,640 212.77,640 211.94,640 211.12,640 210.29,640 209.46,640 208.63,640 207.8,640 206.98,640 206.15,640 205.32,640 204.49,640 203.66,640 202.84,640 202.01,640 201.18,640 200.35,640 199.52,640 198.7,640 197.87,640 197.04,640 196.21,640 195.38,640 194.56,640 193.73,640 192.9,640 192.07,640 191.24,640 190.42,640 189.59,640 188.76,640 187.93,640 187.1,640 186.28,640 185.45,640 184.62,640 183.79,640 182.96,640 182.14,640 181.31,640 180.48,640 179.65,640 178.82,640 178,640 177.17,640 176.34,640 175.51,640 174.68,640 173.86,640 173.03,640 172.2,640 171.37,640 170.54,640 169.72,640 168.89,640 168.06,640 167.23,640 166.4,640 165.58,640 164.75,640 163.92,640 163.09,640 162.26,640 161.44,640 160.61,640 159.78,640 158.95,640 158.12,640 157.3,640 156.47,640 155.64,640 154.81,640 153.98,640 153.16,640 152.33,640 151.5,640 150.67,640 149.84,640 149.02,640 148.19,640 147.36,640 146.53,640 145.7,640 144.88,640 144.05,640 143.22,640 142.39,640 141.56,640 140.74,640 139.91,640 139.08,640 138.25,640 137.42,640 136.6,640 135.77,640 134.94,640 134.11,640 133.28,640 132.46,640 131.63,640 130.8,640 129.97,640 129.14,640 128.32,640 127.49,640 126.66,640 125.83,640 125,640 124.18,640 123.35,640 122.52,640 121.69,640 120.86,640 120.04,640 119.21,640 118.38,640 117.55,640 116.72,640 115.9,640 115.07,640 114.24,639.99 113.41,639.98 112.58,639.97 111.76,639.95 110.93,639.91 110.1,639.84 109.27,639.74 108.44,639.6 107.62,639.39 106.79,639.1 105.96,638.72 105.13,638.25 104.3,637.68 103.48,637.03 102.65,636.31 101.82,635.57 100.99,634.83 100.16,634.13 99.34,633.5 98.51,632.95 97.68,632.47 96.85,632.08 96.02,631.69 95.2,631.21 94.37,630.51 93.54,629.49 92.71,628.07 91.88,626.18 91.06,623.81 90.23,621 89.4,617.79 88.57,614.28 87.74,610.6 86.92,606.87 86.09,603.25 85.26,599.9 84.43,596.97 83.6,594.59 82.78,592.89 81.95,591.95 81.12,591.8 80.29,592.29 79.46,593.36 78.64,594.96 77.81,597.04 76.98,599.53 76.15,602.34 75.32,605.39 74.5,608.58 73.67,611.83 72.84,615.05 72.01,618.17 71.18,621.14 70.36,623.9 69.53,626.43 68.7,628.7 67.87,630.71 67.04,632.45 66.22,633.94 65.39,635.2 64.56,636.24 63.73,637.09 62.9,637.78 62.08,638.33 61.25,638.75 60.42,639.08 59.59,639.33 58.76,639.52 57.94,639.66 57.11,639.76 56.28,639.84 55.45,639.89 54.62,639.92 53.8,639.95 52.97,639.97 52.14,639.98 51.31,639.99 50.48,639.99 49.66,639.99 48.83,640 48,640" fill="#2fb38a" fill-opacity="0.3" stroke="none"/>
<polyline points="48,640 48.83,640 49.66,639.99 50.48,639.99 51.31,639.99 52.14,639.98 52.97,639.96 53.8,639.95 54.62,639.92 55.45,639.88 56.28,639.82 57.11,639.74 57.94,639.63 58.76,639.48 59.59,639.28 60.42,639.01 61.25,638.66 62.08,638.2 62.9,637.61 63.73,636.88 64.56,635.96 65.39,634.84 66.22,633.49 67.04,631.88 67.87,630.01 68.7,627.85 69.53,625.41 70.36,622.69 71.18,619.72 72.01,616.53 72.84,613.17 73.67,609.71 74.5,606.22 75.32,602.78 76.15,599.51 76.98,596.49 77.81,593.81 78.64,591.57 79.46,589.85 80.29,588.7 81.12,588.17 81.95,588.33 82.78,589.34 83.6,591.17 84.43,593.73 85.26,596.88 86.09,600.49 86.92,604.38 87.74,608.38 88.57,612.35 89.4,616.12 90.23,619.57 91.06,622.6 91.88,625.14 92.71,627.17 93.54,628.7 94.37,629.8 95.2,630.55 96.02,631.07 96.85,631.48 97.68,631.91 98.51,632.42 99.34,633.01 100.16,633.69 100.99,634.44 101.82,635.23 102.65,636.03 103.48,636.8 104.3,637.5 105.13,638.12 105.96,638.62 106.79,639.03 107.62,639.34 108.44,639.56 109.27,639.72 110.1,639.83 110.93,639.9 111.76,639.94 112.58,639.97 113.41,639.98 114.24,639.99 115.07,640 115.9,640 116.72,640 117.55,640 118.38,640 119.21,640 120.04,640 120.86,640 121.69,640 122.52,640 123.35,640 124.18,640 125,640 125.83,640 126.66,640 127.49,640 128.32,640 129.14,640 129.97,640 130.8,640 131.63,640 132.46,640 133.28,640 134.11,640 134.94,640 135.77,640 136.6,640 137.42,640 138.25,640 139.08,640 139.91,640 140.74,640 141.56,640 142.39,640 143.22,640 144.05,640 144.88,640 145.7,640 146.53,640 147.36,640 148.19,640 149.02,640 149.84,640 150.67,640 151.5,640 152.33,640 153.16,640 153.98,640 154.81,640 155.64,640 156.47,640 157.3,640 158.12,640 158.95,640 159.78,640 160.61,640 161.44,640 162.26,640 163.09,640 163.92,640 164.75,640 165.58,640 166.4,640 167.23,640 168.06,640 168.89,640 169.72,640 170.54,640 171.37,640 172.2,640 173.03,640 173.86,640 174.68,640 175.51,640 176.34,640 177.17,640 178,640 178.82,640 179.65,640 180.48,640 181.31,640 182.14,640 182.96,640 183.79,640 184.62,640 185.45,640 186.28,640 187.1,640 187.93,640 188.76,640 189.59,640 190.42,640 191.24,640 192.07,640 192.9,640 193.73,640 194.56,640 195.38,640 196.21,640 197.04,640 197.87,640 198.7,640 199.52,640 200.35,640 201.18,640 202.01,640 202.84,640 203.66,640 204.49,640 205.32,640 206.15,640 206.98,640 207.8,640 208.63,640 209.46,640 210.29,640 211.12,640 211.94,640 212.77,640 213.6,640" fill="none" stroke="#2fb38a" stroke-width="1"/>
<polygon points="48,640 48.83,640 49.66,640 50.48,640 51.31,640 52.14,640 52.97,640 53.8,640 54.62,640 55.45,640 56.28,639.99 57.11,639.99 57.94,639.98 58.76,639.96 59.59,639.91 60.42,639.84 61.25,639.72 62.08,639.51 62.9,639.17 63.73,638.64 64.56,637.84 65.39,636.66 66.22,634.98 67.04,632.68 67.87,629.63 68.7,625.75 69.53,620.97 70.36,615.33 71.18,608.94 72.01,602.03 72.84,594.93 73.67,588.06 74.5,581.86 75.32,576.81 76.15,573.31 76.98,571.66 77.81,571.74 78.64,572.78 79.46,574.68 80.29,577.36 81.12,580.71 81.95,584.61 82.78,588.92 83.6,593.49 84.43,598.18 85.26,602.85 86.09,607.39 86.92,611.69 87.74,615.68 88.57,619.3 89.4,622.53 90.23,625.35 91.06,627.78 91.88,629.84 92.71,631.56 93.54,632.99 94.37,634.17 95.2,635.14 96.02,635.93 96.85,636.58 97.68,637.1 98.51,637.53 99.34,637.89 100.16,638.19 100.99,638.46 101.82,638.68 102.65,638.88 103.48,639.06 104.3,639.21 105.13,639.35 105.96,639.46 106.79,639.56 107.62,639.65 108.44,639.72 109.27,639.78 110.1,639.83 110.93,639.87 111.76,639.91 112.58,639.93 113.41,639.95 114.24,639.96 115.07,639.97 115.9,639.98 116.72,639.99 117.55,639.99 118.38,639.99 119.21,640 120.04,640 120.86,640 121.69,640 122.52,640 123.35,640 124.18,640 125,640 125.83,640 126.66,640 127.49,640 128.32,640 129.14,640 129.97,640 130.8,640 131.63,640 132.46,640 133.28,640 134.11,640 134.94,640 135.77,640 136.6,640 137.42,640 138.25,640 139.08,640 139.91,640 140.74,640 141.56,640 142.39,640 143.22,640 144.05,640 144.88,640 145.7,640 146.53,640 147.36,640 148.19,640 149.02,640 149.84,640 150.67,640 151.5,640 152.33,640 153.16,640 153.98,640 154.81,640 155.64,640 156.47,640 157.3,640 158.12,640 158.95,640 159.78,640 160.61,640 161.44,640 162.26,640 163.09,640 163.92,640 164.75,640 165.58,640 166.4,640 167.23,640 168.06,640 168.89,640 169.72,640 170.54,640 171.37,640 172.2,640 173.03,640 173.86,640 174.68,640 175.51,640 176.34,640 177.17,640 178,640 178.82,640 179.65,640 180.48,640 181.31,640 182.14,640 182.96,640 183.79,640 184.62,640 185.45,640 186.28,640 187.1,640 187.93,640 188.76,640 189.59,640 190.42,640 191.24,640 192.07,640 192.9,640 193.73,640 194.56,640 195.38,640 196.21,640 197.04,640 197.87,640 198.7,640 199.52,640 200.35,640 201.18,640 202.01,640 202.84,640 203.66,640 204.49,640 205.32,640 206.15,640 206.98,640 207.8,640 208.63,640 209.46,640 210.29,640 211.12,640 211.94,640 212.77,640 213.6,640 213.6,640 212.77,640 211.94,640 211.12,640 210.29,640 209.46,640 208.63,640 207.8,640 206.98,640 206.15,640 205.32,640 204.49,640 203.66,640 202.84,640 202.01,640 201.18,640 200.35,640 199.52,640 198.7,640 197.87,640 197.04,640 196.21,640 195.38,640 194.56,640 193.73,640 192.9,640 192.07,640 191.24,640 190.42,640 189.59,640 188.76,640 187.93,640 187.1,640 186.28,640 185.45,640 184.62,640 183.79,640 182.96,640 182.14,640 181.31,640 180.48,640 179.65,640 178.82,640 178,640 177.17,640 176.34,640 175.51,640 174.68,640 173.86,640 173.03,640 172.2,640 171.37,640 170.54,640 169.72,640 168.89,640 168.06,640 167.23,640 166.4,640 165.58,640 164.75,640 163.92,640 163.09,640 162.26,640 161.44,640 160.61,640 159.78,640 158.95,640 158.12,640 157.3,640 156.47,640 155.64,640 154.81,640 153.98,640 153.16,640 152.33,640 151.5,640 150.67,640 149.84,640 149.02,640 148.19,640 147.36,640 146.53,640 145.7,640 144.88,640 144.05,640 143.22,640 142.39,640 141.56,640 140.74,640 139.91,640 139.08,640 138.25,640 137.42,640 136.6,640 135.77,640 134.94,640 134.11,640 133.28,640 132.46,640 131.63,640 130.8,640 129.97,640 129.14,640 128.32,640 127.49,640 126.66,640 125.83,640 125,640 124.18,640 123.35,640 122.52,640 121.69,640 120.86,640 120.04,640 119.21,640 118.38,640 117.55,639.99 116.72,639.99 115.9,639.98 115.07,639.98 114.24,639.97 113.41,639.96 112.58,639.94 111.76,639.92 110.93,639.89 110.1,639.86 109.27,639.81 108.44,639.76 107.62,639.7 106.79,639.62 105.96,639.53 105.13,639.43 104.3,639.31 103.48,639.18 102.65,639.03 101.82,638.85 100.99,638.66 100.16,638.43 99.34,638.17 98.51,637.85 97.68,637.48 96.85,637.02 96.02,636.47 95.2,635.78 94.37,634.94 93.54,633.91 92.71,632.67 91.88,631.17 91.06,629.38 90.23,627.27 89.4,624.82 88.57,622.01 87.74,618.86 86.92,615.4 86.09,611.66 85.26,607.71 84.43,603.65 83.6,599.58 82.78,595.6 81.95,591.86 81.12,588.47 80.29,585.55 79.46,583.23 78.64,581.58 77.81,580.67 76.98,580.6 76.15,582.04 75.32,585.08 74.5,589.47 73.67,594.85 72.84,600.83 72.01,607 71.18,613.01 70.36,618.56 69.53,623.46 68.7,627.61 67.87,630.99 67.04,633.64 66.22,635.64 65.39,637.09 64.56,638.12 63.73,638.82 62.9,639.28 62.08,639.57 61.25,639.75 60.42,639.86 59.59,639.93 58.76,639.96 57.94,639.98 57.11,639.99 56.28,640 55.45,640 54.62,640 53.8,640 52.97,640 52.14,640 51.31,640 50.48,640 49.66,640 48.83,640 48,640" fill="#efa820" fill-opacity="0.3" stroke="none"/>
<polyline points="48,640 48.83,640 49.66,640 50.48,640 51.31,640 52.14,640 52.97,640 53.8,640 54.62,640 55.45,640 56.28,639.99 57.11,639.99 57.94,639.98 58.76,639.96 59.59,639.92 60.42,639.85 61.25,639.74 62.08,639.54 62.9,639.23 63.73,638.73 64.56,637.98 65.39,636.87 66.22,635.31 67.04,633.16 67.87,630.31 68.7,626.68 69.53,622.21 70.36,616.94 71.18,610.97 72.01,604.52 72.84,597.88 73.67,591.45 74.5,585.67 75.32,580.95 76.15,577.68 76.98,576.13 77.81,576.21 78.64,577.18 79.46,578.95 80.29,581.46 81.12,584.59 81.95,588.23 82.78,592.26 83.6,596.53 84.43,600.92 85.26,605.28 86.09,609.53 86.92,613.55 87.74,617.27 88.57,620.66 89.4,623.67 90.23,626.31 91.06,628.58 91.88,630.5 92.71,632.11 93.54,633.45 94.37,634.55 95.2,635.46 96.02,636.2 96.85,636.8 97.68,637.29 98.51,637.69 99.34,638.03 100.16,638.31 100.99,638.56 101.82,638.77 102.65,638.95 103.48,639.12 104.3,639.26 105.13,639.39 105.96,639.5 106.79,639.59 107.62,639.67 108.44,639.74 109.27,639.8 110.1,639.84 110.93,639.88 111.76,639.91 112.58,639.93 113.41,639.95 114.24,639.97 115.07,639.98 115.9,639.98 116.72,639.99 117.55,639.99 118.38,639.99 119.21,640 120.04,640 120.86,640 121.69,640 122.52,640 123.35,640 124.18,640 125,640 125.83,640 126.66,640 127.49,640 128.32,640 129.14,640 129.97,640 130.8,640 131.63,640 132.46,640 133.28,640 134.11,640 134.94,640 135.77,640 136.6,640 137.42,640 138.25,640 139.08,640 139.91,640 140.74,640 141.56,640 142.39,640 143.22,640 144.05,640 144.88,640 145.7,640 146.53,640 147.36,640 148.19,640 149.02,640 149.84,640 150.67,640 151.5,640 152.33,640 153.16,640 153.98,640 154.81,640 155.64,640 156.47,640 157.3,640 158.12,640 158.95,640 159.78,640 160.61,640 161.44,640 162.26,640 163.09,640 163.92,640 164.75,640 165.58,640 166.4,640 167.23,640 168.06,640 168.89,640 169.72,640 170.54,640 171.37,640 172.2,640 173.03,640 173.86,640 174.68,640 175.51,640 176.34,640 177.17,640 178,640 178.82,640 179.65,640 180.48,640 181.31,640 182.14,640 182.96,640 183.79,640 184.62,640 185.45,640 186.28,640 187.1,640 187.93,640 188.76,640 189.59,640 190.42,640 191.24,640 192.07,640 192.9,640 193.73,640 194.56,640 195.38,640 196.21,640 197.04,640 197.87,640 198.7,640 199.52,640 200.35,640 201.18,640 202.01,640 202.84,640 203.66,640 204.49,640 205.32,640 206.15,640 206.98,640 207.8,640 208.63,640 209.46,640 210.29,640 211.12,640 211.94,640 212.77,640 213.6,640" fill="none" stroke="#efa820" stroke-width="1"/>
<polygon points="48,640 48.83,640 49.66,640 50.48,640 51.31,640 52.14,640 52.97,640 53.8,640 54.62,640 55.45,640 56.28,640 57.11,640 57.94,640 58.76,639.99 59.59,639.98 60.42,639.96 61.25,639.92 62.08,639.84 62.9,639.69 63.73,639.42 64.56,638.96 65.39,638.19 66.22,636.94 67.04,635 67.87,632.11 68.7,627.93 69.53,622.16 70.36,614.47 71.18,604.67 72.01,592.69 72.84,578.7 73.67,563.17 74.5,546.82 75.32,530.68 76.15,515.91 76.98,503.73 77.81,495.21 78.64,491.17 79.46,491.68 80.29,495.72 81.12,502.93 81.95,512.83 82.78,524.77 83.6,538.04 84.43,551.88 85.26,565.63 86.09,578.7 86.92,590.66 87.74,601.21 88.57,610.22 89.4,617.67 90.23,623.65 91.06,628.31 91.88,631.83 92.71,634.43 93.54,636.29 94.37,637.59 95.2,638.47 96.02,639.05 96.85,639.42 97.68,639.66 98.51,639.8 99.34,639.89 100.16,639.94 100.99,639.97 101.82,639.98 102.65,639.99 103.48,640 104.3,640 105.13,640 105.96,640 106.79,640 107.62,640 108.44,640 109.27,640 110.1,640 110.93,640 111.76,640 112.58,640 113.41,640 114.24,640 115.07,640 115.9,640 116.72,640 117.55,640 118.38,640 119.21,640 120.04,640 120.86,640 121.69,640 122.52,640 123.35,640 124.18,640 125,640 125.83,640 126.66,640 127.49,640 128.32,640 129.14,640 129.97,640 130.8,640 131.63,640 132.46,640 133.28,640 134.11,640 134.94,640 135.77,640 136.6,640 137.42,640 138.25,640 139.08,640 139.91,640 140.74,640 141.56,640 142.39,640 143.22,640 144.05,640 144.88,640 145.7,640 146.53,640 147.36,640 148.19,640 149.02,640 149.84,640 150.67,640 151.5,640 152.33,640 153.16,640 153.98,640 154.81,640 155.64,640 156.47,640 157.3,640 158.12,640 158.95,640 159.78,640 160.61,640 161.44,640 162.26,640 163.09,640 163.92,640 164.75,640 165.58,640 166.4,640 167.23,640 168.06,640 168.89,640 169.72,640 170.54,640 171.37,640 172.2,640 173.03,640 173.86,640 174.68,640 175.51,640 176.34,640 177.17,640 178,640 178.82,640 179.65,640 180.48,640 181.31,640 182.14,640 182.96,640 183.79,640 184.62,640 185.45,640 186.28,640 187.1,640 187.93,640 188.76,640 189.59,640 190.42,640 191.24,640 192.07,640 192.9,640 193.73,640 194.56,640 195.38,640 196.21,640 197.04,640 197.87,640 198.7,640 199.52,640 200.35,640 201.18,640 202.01,640 202.84,640 203.66,640 204.49,640 205.32,640 206.15,640 206.98,640 207.8,640 208.63,640 209.46,640 210.29,640 211.12,640 211.94,640 212.77,640 213.6,640 213.6,640 212.77,640 211.94,640 211.12,640 210.29,640 209.46,640 208.63,640 207.8,640 206.98,640 206.15,640 205.32,640 204.49,640 203.66,640 202.84,640 202.01,640 201.18,640 200.35,640 199.52,640 198.7,640 197.87,640 197.04,640 196.21,640 195.38,640 194.56,640 193.73,640 192.9,640 192.07,640 191.24,640 190.42,640 189.59,640 188.76,640 187.93,640 187.1,640 186.28,640 185.45,640 184.62,640 183.79,640 182.96,640 182.14,640 181.31,640 180.48,640 179.65,640 178.82,640 178,640 177.17,640 176.34,640 175.51,640 174.68,640 173.86,640 173.03,640 172.2,640 171.37,640 170.54,640 169.72,640 168.89,640 168.06,640 167.23,640 166.4,640 165.58,640 164.75,640 163.92,640 163.09,640 162.26,640 161.44,640 160.61,640 159.78,640 158.95,640 158.12,640 157.3,640 156.47,640 155.64,640 154.81,640 153.98,640 153.16,640 152.33,640 151.5,640 150.67,640 149.84,640 149.02,640 148.19,640 147.36,640 146.53,640 145.7,640 144.88,640 144.05,640 143.22,640 142.39,640 141.56,640 140.74,640 139.91,640 139.08,640 138.25,640 137.42,640 136.6,640 135.77,640 134.94,640 134.11,640 133.28,640 132.46,640 131.63,640 130.8,640 129.97,640 129.14,640 128.32,640 127.49,640 126.66,640 125.83,640 125,640 124.18,640 123.35,640 122.52,640 121.69,640 120.86,640 120.04,640 119.21,640 118.38,640 117.55,640 116.72,640 115.9,640 115.07,640 114.24,640 113.41,640 112.58,640 111.76,640 110.93,640 110.1,640 109.27,640 108.44,640 107.62,640 106.79,640 105.96,640 105.13,640 104.3,640 103.48,640 102.65,639.99 101.82,639.98 100.99,639.97 100.16,639.95 99.34,639.9 98.51,639.83 97.68,639.7 96.85,639.5 96.02,639.17 95.2,638.67 94.37,637.9 93.54,636.78 92.71,635.16 91.88,632.9 91.06,629.84 90.23,625.79 89.4,620.59 88.57,614.12 87.74,606.29 86.92,597.11 86.09,586.72 85.26,575.36 84.43,563.41 83.6,551.38 82.78,539.85 81.95,529.47 81.12,520.87 80.29,514.6 79.46,511.09 78.64,510.64 77.81,514.16 76.98,521.56 76.15,532.15 75.32,544.99 74.5,559.02 73.67,573.22 72.84,586.72 72.01,598.88 71.18,609.29 70.36,617.81 69.53,624.49 68.7,629.51 67.87,633.14 67.04,635.66 66.22,637.34 65.39,638.42 64.56,639.1 63.73,639.5 62.9,639.73 62.08,639.86 61.25,639.93 60.42,639.97 59.59,639.98 58.76,639.99 57.94,640 57.11,640 56.28,640 55.45,640 54.62,640 53.8,640 52.97,640 52.14,640 51.31,640 50.48,640 49.66,640 48.83,640 48,640" fill="#5bb7ea" fill-opacity="0.3" stroke="none"/>
<polyline points="48,640 48.83,640 49.66,640 50.48,640 51.31,640 52.14,640 52.97,640 53.8,640 54.62,640 55.45,640 56.28,640 57.11,640 57.94,640 58.76,639.99 59.59,639.98 60.42,639.96 61.25,639.92 62.08,639.85 62.9,639.71 63.73,639.46 64.56,639.03 65.39,638.31 66.22,637.14 67.04,635.33 67.87,632.62 68.7,628.72 69.53,623.32 70.36,616.14 71.18,606.98 72.01,595.78 72.84,582.71 73.67,568.19 74.5,552.92 75.32,537.83 76.15,524.03 76.98,512.64 77.81,504.69 78.64,500.91 79.46,501.38 80.29,505.16 81.12,511.9 81.95,521.15 82.78,532.31 83.6,544.71 84.43,557.65 85.26,570.5 86.09,582.71 86.92,593.89 87.74,603.75 88.57,612.17 89.4,619.13 90.23,624.72 91.06,629.07 91.88,632.37 92.71,634.79 93.54,636.53 94.37,637.74 95.2,638.57 96.02,639.11 96.85,639.46 97.68,639.68 98.51,639.82 99.34,639.9 100.16,639.94 100.99,639.97 101.82,639.98 102.65,639.99 103.48,640 104.3,640 105.13,640 105.96,640 106.79,640 107.62,640 108.44,640 109.27,640 110.1,640 110.93,640 111.76,640 112.58,640 113.41,640 114.24,640 115.07,640 115.9,640 116.72,640 117.55,640 118.38,640 119.21,640 120.04,640 120.86,640 121.69,640 122.52,640 123.35,640 124.18,640 125,640 125.83,640 126.66,640 127.49,640 128.32,640 129.14,640 129.97,640 130.8,640 131.63,640 132.46,640 133.28,640 134.11,640 134.94,640 135.77,640 136.6,640 137.42,640 138.25,640 139.08,640 139.91,640 140.74,640 141.56,640 142.39,640 143.22,640 144.05,640 144.88,640 145.7,640 146.53,640 147.36,640 148.19,640 149.02,640 149.84,640 150.67,640 151.5,640 152.33,640 153.16,640 153.98,640 154.81,640 155.64,640 156.47,640 157.3,640 158.12,640 158.95,640 159.78,640 160.61,640 161.44,640 162.26,640 163.09,640 163.92,640 164.75,640 165.58,640 166.4,640 167.23,640 168.06,640 168.89,640 169.72,640 170.54,640 171.37,640 172.2,640 173.03,640 173.86,640 174.68,640 175.51,640 176.34,640 177.17,640 178,640 178.82,640 179.65,640 180.48,640 181.31,640 182.14,640 182.96,640 183.79,640 184.62,640 185.45,640 186.28,640 187.1,640 187.93,640 188.76,640 189.59,640 190.42,640 191.24,640 192.07,640 192.9,640 193.73,640 194.56,640 195.38,640 196.21,640 197.04,640 197.87,640 198.7,640 199.52,640 200.35,640 201.18,640 202.01,640 202.84,640 203.66,640 204.49,640 205.32,640 206.15,640 206.98,640 207.8,640 208.63,640 209.46,640 210.29,640 211.12,640 211.94,640 212.77,640 213.6,640" fill="none" stroke="#5bb7ea" stroke-width="1"/>
<polygon points="48,640 48.83,640 49.66,640 50.48,640 51.31,640 52.14,640 52.97,640 53.8,640 54.62,640 55.45,640 56.28,640 57.11,640 57.94,639.99 58.76,639.98 59.59,639.96 60.42,639.92 61.25,639.84 62.08,639.69 62.9,639.44 63.73,639.01 64.56,638.32 65.39,637.25 66.22,635.66 67.04,633.41 67.87,630.36 68.7,626.41 69.53,621.54 70.36,615.86 71.18,609.59 72.01,603.09 72.84,596.86 73.67,591.42 74.5,587.31 75.32,584.96 76.15,584.53 76.98,585.14 77.81,586.45 78.64,588.42 79.46,590.97 80.29,593.99 81.12,597.39 81.95,601.04 82.78,604.82 83.6,608.63 84.43,612.36 85.26,615.92 86.09,619.24 86.92,622.28 87.74,625.01 88.57,627.41 89.4,629.49 90.23,631.25 91.06,632.74 91.88,633.98 92.71,635 93.54,635.84 94.37,636.52 95.2,637.08 96.02,637.54 96.85,637.91 97.68,638.21 98.51,638.47 99.34,638.69 100.16,638.89 100.99,639.05 101.82,639.2 102.65,639.33 103.48,639.44 104.3,639.54 105.13,639.63 105.96,639.7 106.79,639.76 107.62,639.81 108.44,639.85 109.27,639.89 110.1,639.92 110.93,639.94 111.76,639.95 112.58,639.97 113.41,639.98 114.24,639.98 115.07,639.99 115.9,639.99 116.72,639.99 117.55,640 118.38,640 119.21,640 120.04,640 120.86,640 121.69,640 122.52,640 123.35,640 124.18,640 125,640 125.83,640 126.66,640 127.49,640 128.32,640 129.14,640 129.97,640 130.8,640 131.63,640 132.46,640 133.28,640 134.11,640 134.94,640 135.77,640 136.6,640 137.42,640 138.25,640 139.08,640 139.91,640 140.74,640 141.56,640 142.39,640 143.22,640 144.05,640 144.88,640 145.7,640 146.53,640 147.36,640 148.19,640 149.02,640 149.84,640 150.67,640 151.5,640 152.33,640 153.16,640 153.98,640 154.81,640 155.64,640 156.47,640 157.3,640 158.12,640 158.95,640 159.78,640 160.61,640 161.44,640 162.26,640 163.09,640 163.92,640 164.75,640 165.58,640 166.4,640 167.23,640 168.06,640 168.89,640 169.72,640 170.54,640 171.37,640 172.2,640 173.03,640 173.86,640 174.68,640 175.51,640 176.34,640 177.17,640 178,640 178.82,640 179.65,640 180.48,640 181.31,640 182.14,640 182.96,640 183.79,640 184.62,640 185.45,640 186.28,640 187.1,640 187.93,640 188.76,640 189.59,640 190.42,640 191.24,640 192.07,640 192.9,640 193.73,640 194.56,640 195.38,640 196.21,640 197.04,640 197.87,640 198.7,640 199.52,640 200.35,640 201.18,640 202.01,640 202.84,640 203.66,640 204.49,640 205.32,640 206.15,640 206.98,640 207.8,640 208.63,640 209.46,640 210.29,640 211.12,640 211.94,640 212.77,640 213.6,640 213.6,640 212.77,640 211.94,640 211.12,640 210.29,640 209.46,640 208.63,640 207.8,640 206.98,640 206.15,640 205.32,640 204.49,640 203.66,640 202.84,640 202.01,640 201.18,640 200.35,640 199.52,640 198.7,640 197.87,640 197.04,640 196.21,640 195.38,640 194.56,640 193.73,640 192.9,640 192.07,640 191.24,640 190.42,640 189.59,640 188.76,640 187.93,640 187.1,640 186.28,640 185.45,640 184.62,640 183.79,640 182.96,640 182.14,640 181.31,640 180.48,640 179.65,640 178.82,640 178,640 177.17,640 176.34,640 175.51,640 174.68,640 173.86,640 173.03,640 172.2,640 171.37,640 170.54,640 169.72,640 168.89,640 168.06,640 167.23,640 166.4,640 165.58,640 164.75,640 163.92,640 163.09,640 162.26,640 161.44,640 160.61,640 159.78,640 158.95,640 158.12,640 157.3,640 156.47,640 155.64,640 154.81,640 153.98,640 153.16,640 152.33,640 151.5,640 150.67,640 149.84,640 149.02,640 148.19,640 147.36,640 146.53,640 145.7,640 144.88,640 144.05,640 143.22,640 142.39,640 141.56,640 140.74,640 139.91,640 139.08,640 138.25,640 137.42,640 136.6,640 135.77,640 134.94,640 134.11,640 133.28,640 132.46,640 131.63,640 130.8,640 129.97,640 129.14,640 128.32,640 127.49,640 126.66,640 125.83,640 125,640 124.18,640 123.35,640 122.52,640 121.69,640 120.86,640 120.04,640 119.21,640 118.38,640 117.55,640 116.72,640 115.9,639.99 115.07,639.99 114.24,639.99 113.41,639.98 112.58,639.97 111.76,639.96 110.93,639.95 110.1,639.93 109.27,639.9 108.44,639.87 107.62,639.84 106.79,639.79 105.96,639.74 105.13,639.67 104.3,639.6 103.48,639.51 102.65,639.42 101.82,639.3 100.99,639.18 100.16,639.03 99.34,638.87 98.51,638.67 97.68,638.45 96.85,638.18 96.02,637.86 95.2,637.46 94.37,636.98 93.54,636.38 92.71,635.65 91.88,634.76 91.06,633.69 90.23,632.4 89.4,630.86 88.57,629.06 87.74,626.97 86.92,624.6 86.09,621.96 85.26,619.07 84.43,615.97 83.6,612.73 82.78,609.43 81.95,606.14 81.12,602.97 80.29,600.01 79.46,597.38 78.64,595.17 77.81,593.46 76.98,592.32 76.15,591.79 75.32,592.16 74.5,594.21 73.67,597.78 72.84,602.5 72.01,607.92 71.18,613.57 70.36,619.02 69.53,623.96 68.7,628.19 67.87,631.62 67.04,634.27 66.22,636.23 65.39,637.61 64.56,638.54 63.73,639.14 62.9,639.51 62.08,639.73 61.25,639.86 60.42,639.93 59.59,639.97 58.76,639.98 57.94,639.99 57.11,640 56.28,640 55.45,640 54.62,640 53.8,640 52.97,640 52.14,640 51.31,640 50.48,640 49.66,640 48.83,640 48,640" fill="#d283b4" fill-opacity="0.3" stroke="none"/>
<polyline points="48,640 48.83,640 49.66,640 50.48,640 51.31,640 52.14,640 52.97,640 53.8,640 54.62,640 55.45,640 56.28,640 57.11,640 57.94,639.99 58.76,639.98 59.59,639.96 60.42,639.92 61.25,639.85 62.08,639.71 62.9,639.48 63.73,639.08 64.56,638.43 65.39,637.43 66.22,635.95 67.04,633.84 67.87,630.99 68.7,627.3 69.53,622.75 70.36,617.44 71.18,611.58 72.01,605.51 72.84,599.68 73.67,594.6 74.5,590.76 75.32,588.56 76.15,588.16 76.98,588.73 77.81,589.96 78.64,591.8 79.46,594.17 80.29,597 81.12,600.18 81.95,603.59 82.78,607.13 83.6,610.68 84.43,614.17 85.26,617.49 86.09,620.6 86.92,623.44 87.74,625.99 88.57,628.23 89.4,630.17 90.23,631.83 91.06,633.21 91.88,634.37 92.71,635.32 93.54,636.11 94.37,636.75 95.2,637.27 96.02,637.7 96.85,638.04 97.68,638.33 98.51,638.57 99.34,638.78 100.16,638.96 100.99,639.11 101.82,639.25 102.65,639.37 103.48,639.48 104.3,639.57 105.13,639.65 105.96,639.72 106.79,639.78 107.62,639.82 108.44,639.86 109.27,639.9 110.1,639.92 110.93,639.94 111.76,639.96 112.58,639.97 113.41,639.98 114.24,639.98 115.07,639.99 115.9,639.99 116.72,640 117.55,640 118.38,640 119.21,640 120.04,640 120.86,640 121.69,640 122.52,640 123.35,640 124.18,640 125,640 125.83,640 126.66,640 127.49,640 128.32,640 129.14,640 129.97,640 130.8,640 131.63,640 132.46,640 133.28,640 134.11,640 134.94,640 135.77,640 136.6,640 137.42,640 138.25,640 139.08,640 139.91,640 140.74,640 141.56,640 142.39,640 143.22,640 144.05,640 144.88,640 145.7,640 146.53,640 147.36,640 148.19,640 149.02,640 149.84,640 150.67,640 151.5,640 152.33,640 153.16,640 153.98,640 154.81,640 155.64,640 156.47,640 157.3,640 158.12,640 158.95,640 159.78,640 160.61,640 161.44,640 162.26,640 163.09,640 163.92,640 164.75,640 165.58,640 166.4,640 167.23,640 168.06,640 168.89,640 169.72,640 170.54,640 171.37,640 172.2,640 173.03,640 173.86,640 174.68,640 175.51,640 176.34,640 177.17,640 178,640 178.82,640 179.65,640 180.48,640 181.31,640 182.14,640 182.96,640 183.79,640 184.62,640 185.45,640 186.28,640 187.1,640 187.93,640 188.76,640 189.59,640 190.42,640 191.24,640 192.07,640 192.9,640 193.73,640 194.56,640 195.38,640 196.21,640 197.04,640 197.87,640 198.7,640 199.52,640 200.35,640 201.18,640 202.01,640 202.84,640 203.66,640 204.49,640 205.32,640 206.15,640 206.98,640 207.8,640 208.63,640 209.46,640 210.29,640 211.12,640 211.94,640 212.77,640 213.6,640" fill="none" stroke="#d283b4" stroke-width="1"/>
<line x1="84.2" y1="485.7" x2="95.7" y2="485.7" stroke="#2fb38a" stroke-width="1" />
<text x="101.2" y="488.6" font-size="8.2" text-anchor="start" fill="#1e1e1e" stroke="#1e1e1e" stroke-width="0.06" >HEK293 nPMVs: 129 ± 38 nm</text>
<line x1="84.2" y1="495.67" x2="95.7" y2="495.67" stroke="#efa820" stroke-width="1" />
<text x="101.2" y="498.57" font-size="8.2" text-anchor="start" fill="#1e1e1e" stroke="#1e1e1e" stroke-width="0.06" >HEK293 native EVs: 116 ± 33 nm</text>
<line x1="84.2" y1="505.64" x2="95.7" y2="505.64" stroke="#5bb7ea" stroke-width="1" />
<text x="101.2" y="508.54" font-size="8.2" text-anchor="start" fill="#1e1e1e" stroke="#1e1e1e" stroke-width="0.06" >Huh7 nPMVs: 118 ± 27 nm</text>
<line x1="84.2" y1="515.61" x2="95.7" y2="515.61" stroke="#d283b4" stroke-width="1" />
<text x="101.2" y="518.51" font-size="8.2" text-anchor="start" fill="#1e1e1e" stroke="#1e1e1e" stroke-width="0.06" >Huh7 native EVs: 115 ± 34 nm</text>
<text x="240.3" y="463.2" font-size="26" font-weight="bold" fill="#000">f</text>
<line x1="259.9" y1="478.5" x2="447" y2="478.5" stroke="#3a3a3a" stroke-width="1.1" />
<line x1="447" y1="478.5" x2="447" y2="634.4" stroke="#a3a3a3" stroke-width="1.2" />
<line x1="259.9" y1="478.5" x2="259.9" y2="634.4" stroke="#a3a3a3" stroke-width="1.2" />
<line x1="259.9" y1="634.4" x2="447" y2="634.4" stroke="#858585" stroke-width="1" />
<line x1="257.1" y1="556.6" x2="259.9" y2="556.6" stroke="#444" stroke-width="0.9" />
<line x1="258.6" y1="540.65" x2="259.9" y2="540.65" stroke="#555" stroke-width="0.9" />
<line x1="258.6" y1="531.31" x2="259.9" y2="531.31" stroke="#555" stroke-width="0.9" />
<line x1="258.6" y1="524.69" x2="259.9" y2="524.69" stroke="#555" stroke-width="0.9" />
<line x1="258.6" y1="519.55" x2="259.9" y2="519.55" stroke="#555" stroke-width="0.9" />
<line x1="258.6" y1="515.36" x2="259.9" y2="515.36" stroke="#555" stroke-width="0.9" />
<line x1="258.6" y1="511.81" x2="259.9" y2="511.81" stroke="#555" stroke-width="0.9" />
<line x1="258.6" y1="508.74" x2="259.9" y2="508.74" stroke="#555" stroke-width="0.9" />
<line x1="258.6" y1="506.03" x2="259.9" y2="506.03" stroke="#555" stroke-width="0.9" />
<line x1="257.1" y1="503.6" x2="259.9" y2="503.6" stroke="#444" stroke-width="0.9" />
<line x1="258.6" y1="487.65" x2="259.9" y2="487.65" stroke="#555" stroke-width="0.9" />
<text x="256.3" y="612.9" font-size="9.3" text-anchor="end" fill="#1e1e1e" stroke="#1e1e1e" stroke-width="0.14">10<tspan font-size="6.2" dy="-3.7">1</tspan></text>
<text x="256.3" y="559.9" font-size="9.3" text-anchor="end" fill="#1e1e1e" stroke="#1e1e1e" stroke-width="0.14">10<tspan font-size="6.2" dy="-3.7">2</tspan></text>
<text x="256.3" y="506.9" font-size="9.3" text-anchor="end" fill="#1e1e1e" stroke="#1e1e1e" stroke-width="0.14">10<tspan font-size="6.2" dy="-3.7">3</tspan></text>
<rect x="274.4" y="501.4" width="27.2" height="133" fill="#009E73" stroke="#2a2a2a" stroke-width="0.8" />
<rect x="312" y="622.4" width="27.2" height="12" fill="#E69F00" stroke="#2a2a2a" stroke-width="0.8" />
<rect x="368" y="496.2" width="27.2" height="138.2" fill="#009E73" stroke="#2a2a2a" stroke-width="0.8" />
<rect x="405.5" y="619.2" width="27.2" height="15.2" fill="#E69F00" stroke="#2a2a2a" stroke-width="0.8" />
<line x1="288" y1="498.4" x2="288" y2="505" stroke="#000" stroke-width="0.9" />
<line x1="281.3" y1="498.4" x2="294.7" y2="498.4" stroke="#000" stroke-width="0.9" />
<line x1="281.3" y1="505" x2="294.7" y2="505" stroke="#000" stroke-width="0.9" />
<circle cx="281" cy="502.4" r="1.35" fill="#000"/>
<circle cx="288.4" cy="498" r="1.35" fill="#000"/>
<circle cx="294.6" cy="504.6" r="1.35" fill="#000"/>
<line x1="325.6" y1="620.6" x2="325.6" y2="623.2" stroke="#000" stroke-width="0.9" />
<line x1="318.9" y1="620.6" x2="332.3" y2="620.6" stroke="#000" stroke-width="0.9" />
<line x1="318.9" y1="623.2" x2="332.3" y2="623.2" stroke="#000" stroke-width="0.9" />
<circle cx="316.6" cy="622" r="1.35" fill="#000"/>
<circle cx="325.6" cy="620.6" r="1.35" fill="#000"/>
<circle cx="325.6" cy="623.4" r="1.35" fill="#000"/>
<circle cx="330.6" cy="622.2" r="1.35" fill="#000"/>
<line x1="381.6" y1="493.4" x2="381.6" y2="499.4" stroke="#000" stroke-width="0.9" />
<line x1="374.9" y1="493.4" x2="388.3" y2="493.4" stroke="#000" stroke-width="0.9" />
<line x1="374.9" y1="499.4" x2="388.3" y2="499.4" stroke="#000" stroke-width="0.9" />
<circle cx="372.4" cy="495.4" r="1.35" fill="#000"/>
<circle cx="390.4" cy="493.6" r="1.35" fill="#000"/>
<circle cx="381.6" cy="499.6" r="1.35" fill="#000"/>
<line x1="419" y1="616.6" x2="419" y2="622" stroke="#000" stroke-width="0.9" />
<line x1="412.3" y1="616.6" x2="425.7" y2="616.6" stroke="#000" stroke-width="0.9" />
<line x1="412.3" y1="622" x2="425.7" y2="622" stroke="#000" stroke-width="0.9" />
<circle cx="410" cy="619" r="1.35" fill="#000"/>
<circle cx="428" cy="616.6" r="1.35" fill="#000"/>
<circle cx="418.8" cy="622" r="1.35" fill="#000"/>
<polyline points="288,493.6 288,490.6 325.6,490.6 325.6,617" fill="none" stroke="#8a8a8a" stroke-width="0.9"/>
<text x="306.4" y="491.2" font-size="9.0" text-anchor="middle" fill="#222" stroke="#222" stroke-width="0" letter-spacing="0.3">**</text>
<polyline points="381.4,492.4 381.4,489 418.4,489 418.4,613" fill="none" stroke="#8a8a8a" stroke-width="0.9"/>
<text x="400" y="489.6" font-size="9.0" text-anchor="middle" fill="#222" stroke="#222" stroke-width="0" letter-spacing="0.3">**</text>
<line x1="259.9" y1="648.4" x2="447" y2="648.4" stroke="#858585" stroke-width="1" />
<line x1="259.9" y1="663" x2="447" y2="663" stroke="#555" stroke-width="1" />
<line x1="259.9" y1="634.4" x2="259.9" y2="663" stroke="#858585" stroke-width="1" />
<line x1="447" y1="634.4" x2="447" y2="663" stroke="#858585" stroke-width="1" />
<line x1="353.45" y1="634.4" x2="353.45" y2="663" stroke="#858585" stroke-width="1" />
<line x1="306.67" y1="634.4" x2="306.67" y2="648.4" stroke="#858585" stroke-width="1" />
<line x1="400.23" y1="634.4" x2="400.23" y2="648.4" stroke="#858585" stroke-width="1" />
<text x="283.29" y="644.5" font-size="8.7" text-anchor="middle" fill="#1e1e1e" stroke="#1e1e1e" stroke-width="0.17" >nPMVs</text>
<text x="330.06" y="644.5" font-size="8.7" text-anchor="middle" fill="#1e1e1e" stroke="#1e1e1e" stroke-width="0.17" >native EVs</text>
<text x="376.84" y="644.5" font-size="8.7" text-anchor="middle" fill="#1e1e1e" stroke="#1e1e1e" stroke-width="0.17" >nPMVs</text>
<text x="423.61" y="644.5" font-size="8.7" text-anchor="middle" fill="#1e1e1e" stroke="#1e1e1e" stroke-width="0.17" >native EVs</text>
<text x="306.67" y="659" font-size="9.2" text-anchor="middle" fill="#1e1e1e" stroke="#1e1e1e" stroke-width="0.17" >HEK293</text>
<text x="400.23" y="659" font-size="9.2" text-anchor="middle" fill="#1e1e1e" stroke="#1e1e1e" stroke-width="0.17" >Huh7</text>
<text transform="translate(239.6,556) rotate(-90)" font-size="10.3" text-anchor="middle" fill="#1e1e1e" stroke="#1e1e1e" stroke-width="0.17">Production rate [particles/cell/hour]</text>
<text x="472" y="463.2" font-size="26" font-weight="bold" fill="#000">g</text>
<line x1="495.4" y1="478.5" x2="682.4" y2="478.5" stroke="#3a3a3a" stroke-width="1.1" />
<line x1="682.4" y1="478.5" x2="682.4" y2="634" stroke="#a3a3a3" stroke-width="1.2" />
<line x1="495.4" y1="478.5" x2="495.4" y2="634" stroke="#555" stroke-width="1.2" />
<line x1="495.4" y1="634" x2="682.4" y2="634" stroke="#858585" stroke-width="1" />
<line x1="492.6" y1="634" x2="495.4" y2="634" stroke="#444" stroke-width="0.9" />
<line x1="494.1" y1="612.09" x2="495.4" y2="612.09" stroke="#555" stroke-width="0.9" />
<line x1="494.1" y1="599.27" x2="495.4" y2="599.27" stroke="#555" stroke-width="0.9" />
<line x1="494.1" y1="590.17" x2="495.4" y2="590.17" stroke="#555" stroke-width="0.9" />
<line x1="494.1" y1="583.11" x2="495.4" y2="583.11" stroke="#555" stroke-width="0.9" />
<line x1="494.1" y1="577.35" x2="495.4" y2="577.35" stroke="#555" stroke-width="0.9" />
<line x1="494.1" y1="572.48" x2="495.4" y2="572.48" stroke="#555" stroke-width="0.9" />
<line x1="494.1" y1="568.26" x2="495.4" y2="568.26" stroke="#555" stroke-width="0.9" />
<line x1="494.1" y1="564.53" x2="495.4" y2="564.53" stroke="#555" stroke-width="0.9" />
<line x1="492.6" y1="561.2" x2="495.4" y2="561.2" stroke="#444" stroke-width="0.9" />
<line x1="494.1" y1="539.29" x2="495.4" y2="539.29" stroke="#555" stroke-width="0.9" />
<line x1="494.1" y1="526.47" x2="495.4" y2="526.47" stroke="#555" stroke-width="0.9" />
<line x1="494.1" y1="517.37" x2="495.4" y2="517.37" stroke="#555" stroke-width="0.9" />
<line x1="494.1" y1="510.31" x2="495.4" y2="510.31" stroke="#555" stroke-width="0.9" />
<line x1="494.1" y1="504.55" x2="495.4" y2="504.55" stroke="#555" stroke-width="0.9" />
<line x1="494.1" y1="499.68" x2="495.4" y2="499.68" stroke="#555" stroke-width="0.9" />
<line x1="494.1" y1="495.46" x2="495.4" y2="495.46" stroke="#555" stroke-width="0.9" />
<line x1="494.1" y1="491.73" x2="495.4" y2="491.73" stroke="#555" stroke-width="0.9" />
<line x1="492.6" y1="488.4" x2="495.4" y2="488.4" stroke="#444" stroke-width="0.9" />
<text x="491.8" y="637.3" font-size="9.3" text-anchor="end" fill="#1e1e1e" stroke="#1e1e1e" stroke-width="0.14">10<tspan font-size="6.2" dy="-3.7">8</tspan></text>
<text x="491.8" y="564.5" font-size="9.3" text-anchor="end" fill="#1e1e1e" stroke="#1e1e1e" stroke-width="0.14">10<tspan font-size="6.2" dy="-3.7">9</tspan></text>
<text x="491.8" y="491.7" font-size="9.3" text-anchor="end" fill="#1e1e1e" stroke="#1e1e1e" stroke-width="0.14">10<tspan font-size="6.2" dy="-3.7">10</tspan></text>
<rect x="511.5" y="502.2" width="24.2" height="131.8" fill="#009E73" stroke="#2a2a2a" stroke-width="0.8" />
<rect x="548.9" y="603.2" width="24.2" height="30.8" fill="#E69F00" stroke="#2a2a2a" stroke-width="0.8" />
<rect x="605.4" y="494.4" width="24.2" height="139.6" fill="#009E73" stroke="#2a2a2a" stroke-width="0.8" />
<rect x="642.6" y="598.4" width="24.2" height="35.6" fill="#E69F00" stroke="#2a2a2a" stroke-width="0.8" />
<line x1="523.6" y1="497" x2="523.6" y2="506" stroke="#000" stroke-width="0.9" />
<line x1="517.6" y1="497" x2="529.6" y2="497" stroke="#000" stroke-width="0.9" />
<line x1="517.6" y1="506" x2="529.6" y2="506" stroke="#000" stroke-width="0.9" />
<circle cx="518" cy="503.6" r="1.35" fill="#000"/>
<circle cx="530" cy="497" r="1.35" fill="#000"/>
<circle cx="523.6" cy="506.4" r="1.35" fill="#000"/>
<line x1="561" y1="601.2" x2="561" y2="604" stroke="#000" stroke-width="0.9" />
<line x1="555" y1="601.2" x2="567" y2="601.2" stroke="#000" stroke-width="0.9" />
<line x1="555" y1="604" x2="567" y2="604" stroke="#000" stroke-width="0.9" />
<circle cx="553" cy="603.6" r="1.35" fill="#000"/>
<circle cx="561" cy="604.4" r="1.35" fill="#000"/>
<circle cx="569.4" cy="601" r="1.35" fill="#000"/>
<line x1="617.4" y1="491.6" x2="617.4" y2="499.4" stroke="#000" stroke-width="0.9" />
<line x1="611.4" y1="491.6" x2="623.4" y2="491.6" stroke="#000" stroke-width="0.9" />
<line x1="611.4" y1="499.4" x2="623.4" y2="499.4" stroke="#000" stroke-width="0.9" />
<circle cx="611" cy="491.6" r="1.35" fill="#000"/>
<circle cx="623.4" cy="494" r="1.35" fill="#000"/>
<circle cx="617.2" cy="499.4" r="1.35" fill="#000"/>
<line x1="654.6" y1="595.4" x2="654.6" y2="602.4" stroke="#000" stroke-width="0.9" />
<line x1="648.6" y1="595.4" x2="660.6" y2="595.4" stroke="#000" stroke-width="0.9" />
<line x1="648.6" y1="602.4" x2="660.6" y2="602.4" stroke="#000" stroke-width="0.9" />
<circle cx="646.4" cy="598.4" r="1.35" fill="#000"/>
<circle cx="663" cy="595.2" r="1.35" fill="#000"/>
<circle cx="654.6" cy="602.6" r="1.35" fill="#000"/>
<polyline points="524,497 524,493.6 561.4,493.6 561.4,601" fill="none" stroke="#4a4a4a" stroke-width="0.9"/>
<text x="542.4" y="494.2" font-size="9.0" text-anchor="middle" fill="#222" stroke="#222" stroke-width="0" letter-spacing="0.3">**</text>
<polyline points="617.2,491 617.2,487.4 654.6,487.4 654.6,592" fill="none" stroke="#4a4a4a" stroke-width="0.9"/>
<text x="635.6" y="488" font-size="9.0" text-anchor="middle" fill="#222" stroke="#222" stroke-width="0" letter-spacing="0.3">**</text>
<line x1="495.4" y1="648" x2="682.4" y2="648" stroke="#858585" stroke-width="1" />
<line x1="495.4" y1="662.6" x2="682.4" y2="662.6" stroke="#555" stroke-width="1" />
<line x1="495.4" y1="634" x2="495.4" y2="662.6" stroke="#858585" stroke-width="1" />
<line x1="682.4" y1="634" x2="682.4" y2="662.6" stroke="#858585" stroke-width="1" />
<line x1="588.9" y1="634" x2="588.9" y2="662.6" stroke="#858585" stroke-width="1" />
<line x1="542.15" y1="634" x2="542.15" y2="648" stroke="#858585" stroke-width="1" />
<line x1="635.65" y1="634" x2="635.65" y2="648" stroke="#858585" stroke-width="1" />
<text x="518.77" y="644.1" font-size="8.7" text-anchor="middle" fill="#1e1e1e" stroke="#1e1e1e" stroke-width="0.17" >nPMVs</text>
<text x="565.52" y="644.1" font-size="8.7" text-anchor="middle" fill="#1e1e1e" stroke="#1e1e1e" stroke-width="0.17" >native EVs</text>
<text x="612.27" y="644.1" font-size="8.7" text-anchor="middle" fill="#1e1e1e" stroke="#1e1e1e" stroke-width="0.17" >nPMVs</text>
<text x="659.02" y="644.1" font-size="8.7" text-anchor="middle" fill="#1e1e1e" stroke="#1e1e1e" stroke-width="0.17" >native EVs</text>
<text x="542.15" y="658.6" font-size="9.2" text-anchor="middle" fill="#1e1e1e" stroke="#1e1e1e" stroke-width="0.17" >HEK293</text>
<text x="635.65" y="658.6" font-size="9.2" text-anchor="middle" fill="#1e1e1e" stroke="#1e1e1e" stroke-width="0.17" >Huh7</text>
<text transform="translate(470.6,556) rotate(-90)" font-size="10.3" text-anchor="middle" fill="#1e1e1e" stroke="#1e1e1e" stroke-width="0.17">Particle yield [particles/10<tspan font-size="6.5" dy="-3.5">6</tspan><tspan dy="3.5"> cells]</tspan></text>
</svg></body></html>
